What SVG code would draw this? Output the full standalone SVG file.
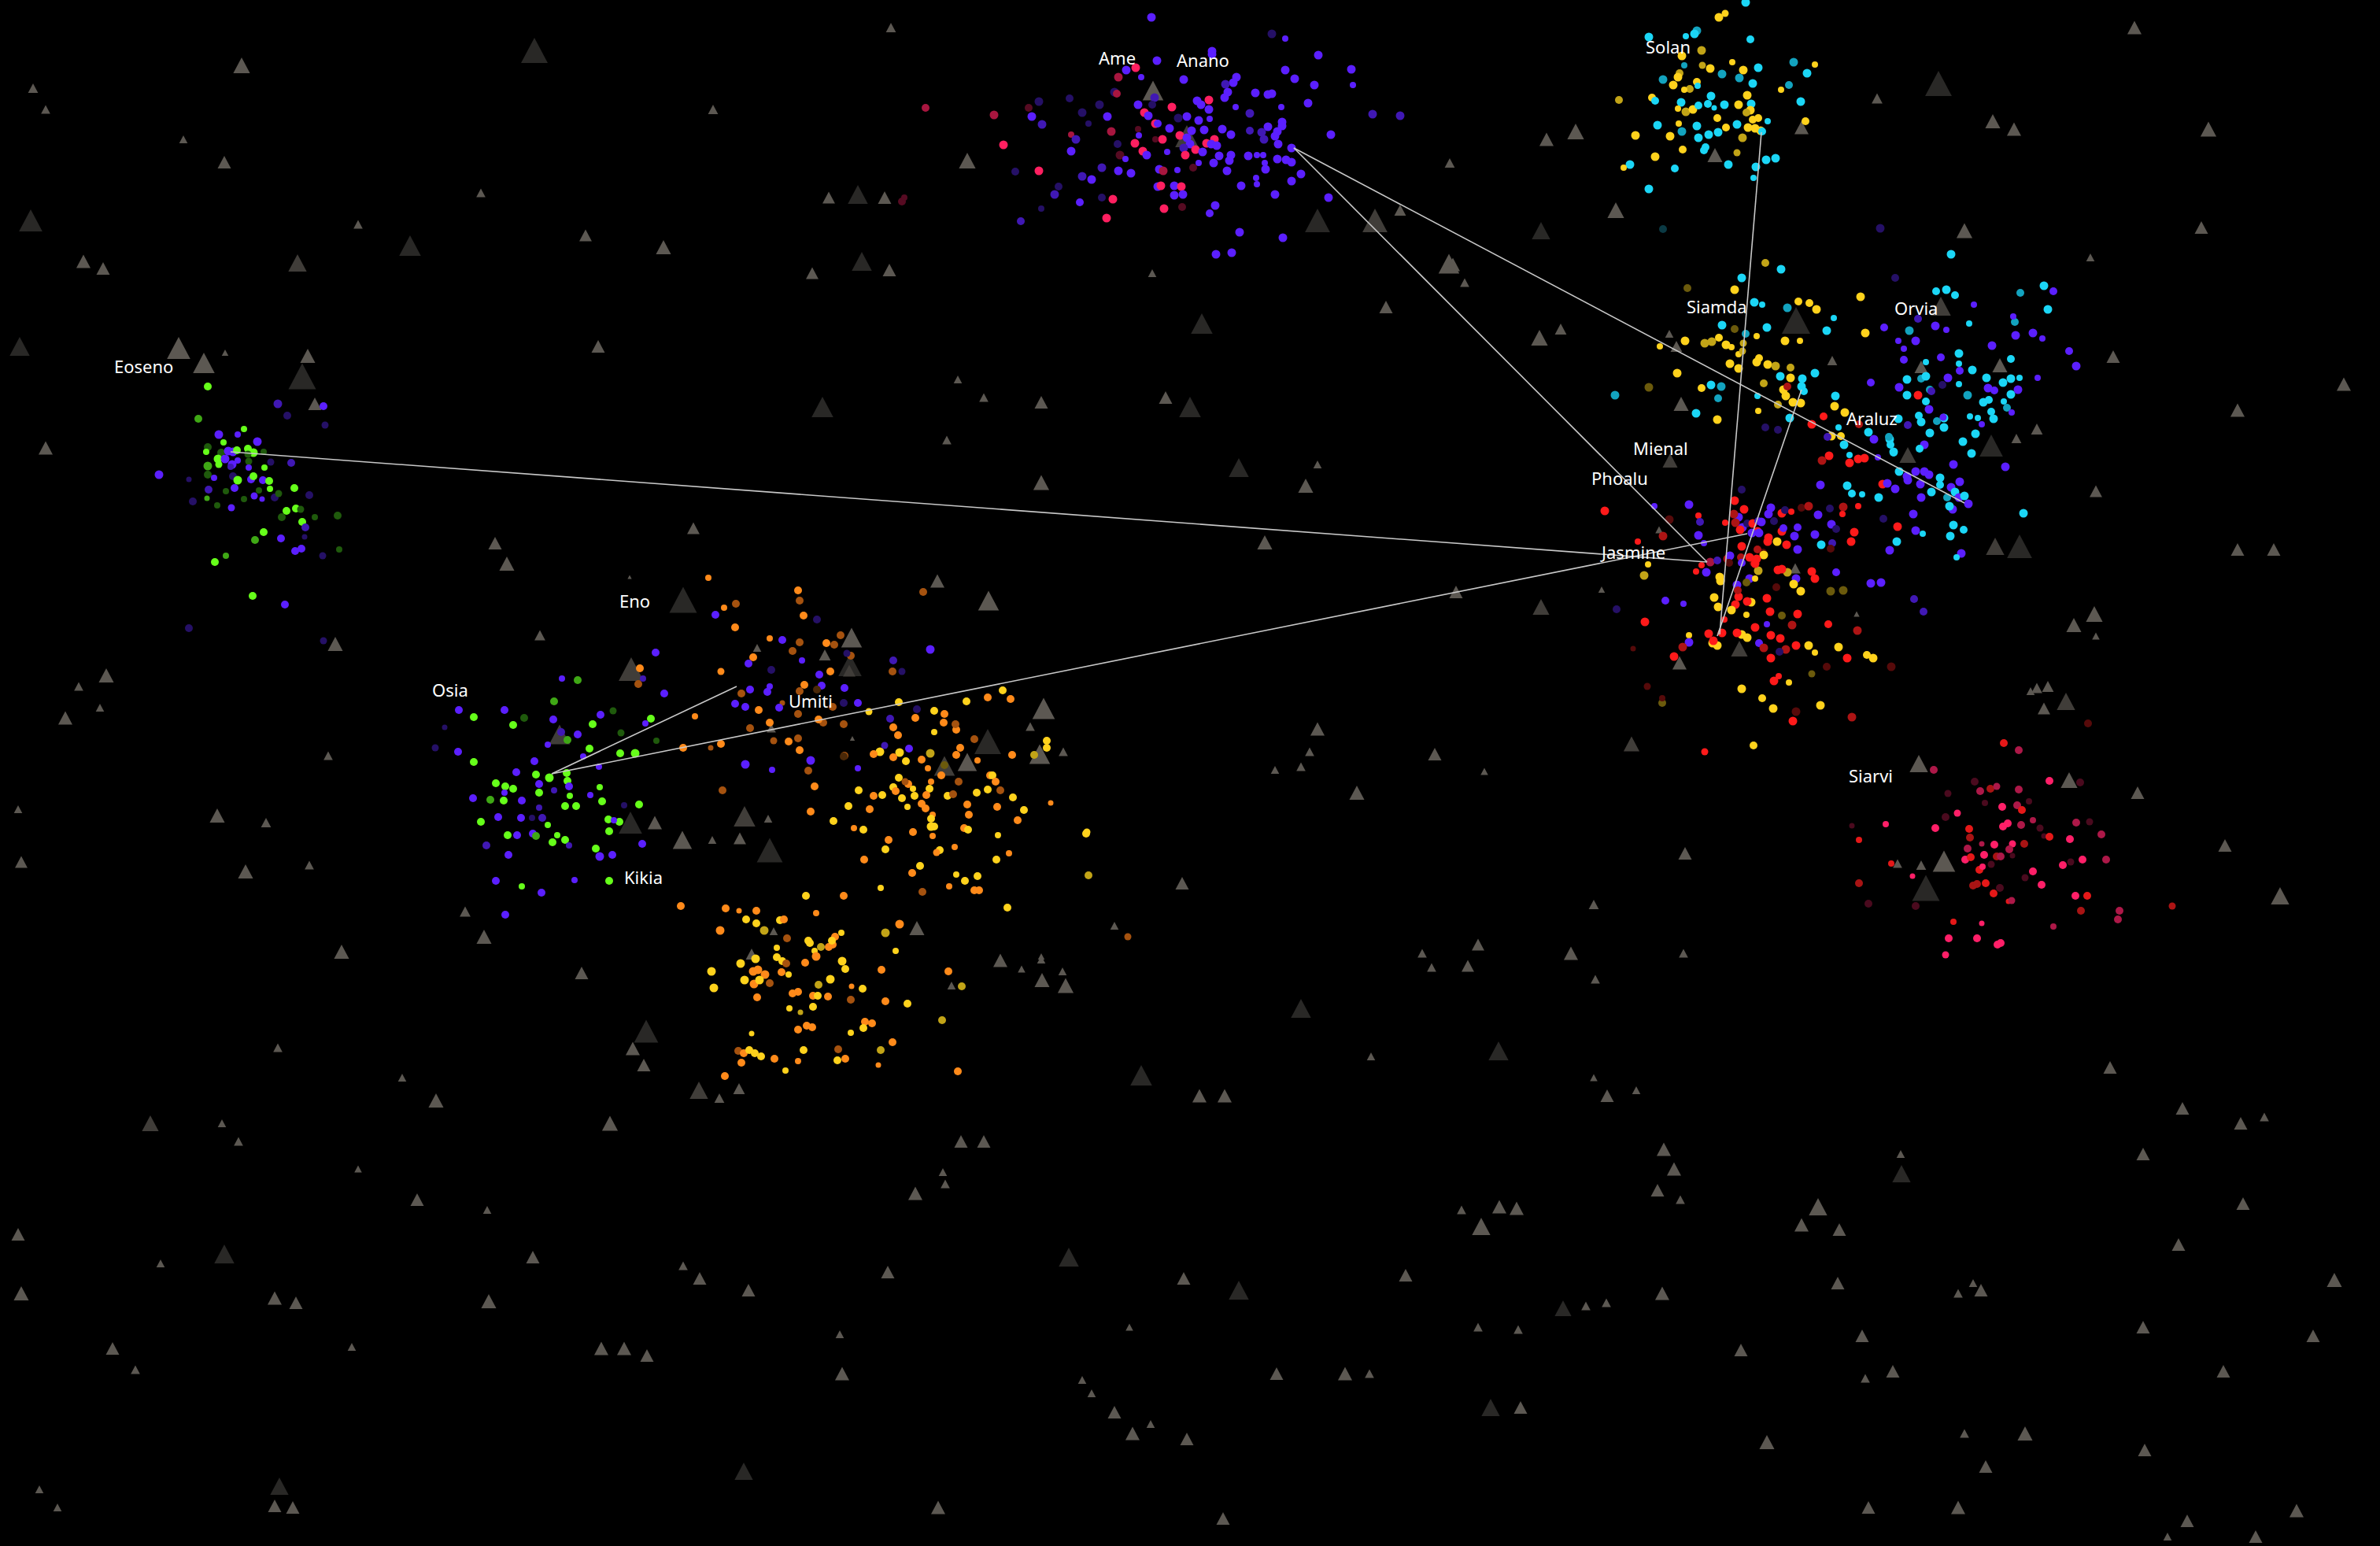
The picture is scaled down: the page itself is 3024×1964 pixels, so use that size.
<svg xmlns="http://www.w3.org/2000/svg" xmlns:xlink="http://www.w3.org/1999/xlink" width="3024" height="1964" viewBox="0 0 3024 1964">
<style>
.L{fill:#5c5852}.M{fill:#403d39}.D{fill:#292826}
.b{fill:#5b1fff}.bd{fill:#4018b4}.bk{fill:#251066}
.r{fill:#ff1f60}.rd{fill:#a8163f}.rk{fill:#560b22}
.c{fill:#1bd6f6}.cd{fill:#13a3bf}.ck{fill:#0b3a44}
.y{fill:#ffd21c}.yd{fill:#c2a417}.yk{fill:#6b5a0c}
.R{fill:#ff1a1a}.Rd{fill:#ad1414}.Rk{fill:#560a0a}
.g{fill:#66ff1a}.gd{fill:#3fa815}.gk{fill:#1f5a0c}
.o{fill:#ff8a1a}.od{fill:#a5520f}.ok{fill:#4a2808}
.s{fill:#ff1f68}.sd{fill:#ad1848}.sk{fill:#4a0a1e}.sR{fill:#e51818}.sRd{fill:#a81414}
.ln{stroke:#c8c8c8;stroke-width:1.6;fill:none}
.lb{font-family:"Noto Sans","Liberation Sans",sans-serif;font-size:22px;fill:#ffffff}
</style>
<defs><path id="T" d="M0,-0.5L0.53,0.5L-0.53,0.5Z"/></defs>
<rect width="3024" height="1964" fill="#000000"/>
<g id="terrain">
<use href="#T" transform="translate(1132 35) scale(12)" class="L"/><use href="#T" transform="translate(679 64) scale(32)" class="D"/><use href="#T" transform="translate(307 83) scale(20)" class="L"/><use href="#T" transform="translate(42 112) scale(12)" class="L"/><use href="#T" transform="translate(2712 35) scale(17)" class="L"/><use href="#T" transform="translate(2463 106) scale(32)" class="D"/><use href="#T" transform="translate(906 139) scale(12)" class="L"/><use href="#T" transform="translate(58 139) scale(11)" class="L"/><use href="#T" transform="translate(233 177) scale(10)" class="L"/><use href="#T" transform="translate(2806 164) scale(19)" class="L"/><use href="#T" transform="translate(2532 154) scale(18)" class="L"/><use href="#T" transform="translate(2559 164) scale(17)" class="L"/><use href="#T" transform="translate(1965 177) scale(17)" class="L"/><use href="#T" transform="translate(285 206) scale(16)" class="L"/><use href="#T" transform="translate(39 280) scale(28)" class="D"/><use href="#T" transform="translate(611 245) scale(11)" class="L"/><use href="#T" transform="translate(744 299) scale(15)" class="L"/><use href="#T" transform="translate(521 312) scale(26)" class="D"/><use href="#T" transform="translate(843 314) scale(18)" class="L"/><use href="#T" transform="translate(106 332) scale(17)" class="L"/><use href="#T" transform="translate(131 341) scale(16)" class="L"/><use href="#T" transform="translate(378 334) scale(22)" class="M"/><use href="#T" transform="translate(455 285) scale(11)" class="L"/><use href="#T" transform="translate(1053 251) scale(15)" class="L"/><use href="#T" transform="translate(1090 247) scale(24)" class="D"/><use href="#T" transform="translate(1124 251) scale(16)" class="L"/><use href="#T" transform="translate(1674 280) scale(30)" class="D"/><use href="#T" transform="translate(1747 280) scale(30)" class="M"/><use href="#T" transform="translate(1779 267) scale(14)" class="L"/><use href="#T" transform="translate(1842 207) scale(12)" class="L"/><use href="#T" transform="translate(1841 335) scale(25)" class="L"/><use href="#T" transform="translate(1464 347) scale(10)" class="L"/><use href="#T" transform="translate(1465 115) scale(25)" class="L"/><use href="#T" transform="translate(1508 173) scale(28)" class="M"/><use href="#T" transform="translate(1229 204) scale(20)" class="L"/><use href="#T" transform="translate(1958 293) scale(22)" class="D"/><use href="#T" transform="translate(2496 293) scale(19)" class="L"/><use href="#T" transform="translate(2797 289) scale(16)" class="L"/><use href="#T" transform="translate(1032 347) scale(15)" class="L"/><use href="#T" transform="translate(1095 332) scale(24)" class="D"/><use href="#T" transform="translate(1130 343) scale(16)" class="L"/><use href="#T" transform="translate(1846 336) scale(17)" class="L"/><use href="#T" transform="translate(1861 359) scale(11)" class="L"/><use href="#T" transform="translate(1761 390) scale(16)" class="L"/><use href="#T" transform="translate(1527 411) scale(26)" class="D"/><use href="#T" transform="translate(2385 125) scale(13)" class="L"/><use href="#T" transform="translate(2289 162) scale(17)" class="L"/><use href="#T" transform="translate(2179 197) scale(18)" class="L"/><use href="#T" transform="translate(2053 267) scale(20)" class="L"/><use href="#T" transform="translate(2002 167) scale(20)" class="L"/>
<use href="#T" transform="translate(227 442) scale(28)" class="L"/><use href="#T" transform="translate(259 461) scale(26)" class="L"/><use href="#T" transform="translate(286 448) scale(8)" class="L"/><use href="#T" transform="translate(391 452) scale(18)" class="L"/><use href="#T" transform="translate(384 478) scale(33)" class="D"/><use href="#T" transform="translate(400 513) scale(16)" class="L"/><use href="#T" transform="translate(25 440) scale(24)" class="D"/>
<use href="#T" transform="translate(760 440) scale(16)" class="L"/><use href="#T" transform="translate(58 569) scale(17)" class="L"/><use href="#T" transform="translate(1045 517) scale(26)" class="D"/><use href="#T" transform="translate(1323 511) scale(16)" class="L"/><use href="#T" transform="translate(1250 505) scale(11)" class="L"/><use href="#T" transform="translate(1217 482) scale(10)" class="L"/><use href="#T" transform="translate(1481 505) scale(16)" class="L"/><use href="#T" transform="translate(1512 517) scale(26)" class="D"/><use href="#T" transform="translate(2843 521) scale(17)" class="L"/><use href="#T" transform="translate(2978 488) scale(17)" class="L"/><use href="#T" transform="translate(2685 453) scale(16)" class="L"/><use href="#T" transform="translate(1203 559) scale(11)" class="L"/><use href="#T" transform="translate(1323 613) scale(19)" class="L"/><use href="#T" transform="translate(1574 594) scale(24)" class="D"/><use href="#T" transform="translate(1659 617) scale(18)" class="L"/><use href="#T" transform="translate(1674 590) scale(10)" class="L"/><use href="#T" transform="translate(629 690) scale(16)" class="L"/><use href="#T" transform="translate(644 716) scale(18)" class="L"/><use href="#T" transform="translate(881 671) scale(15)" class="L"/><use href="#T" transform="translate(1607 689) scale(18)" class="L"/><use href="#T" transform="translate(2843 698) scale(16)" class="L"/><use href="#T" transform="translate(2889 698) scale(16)" class="L"/><use href="#T" transform="translate(1958 771) scale(20)" class="M"/><use href="#T" transform="translate(1850 752) scale(16)" class="L"/><use href="#T" transform="translate(426 818) scale(18)" class="L"/><use href="#T" transform="translate(135 858) scale(18)" class="L"/><use href="#T" transform="translate(100 872) scale(11)" class="L"/><use href="#T" transform="translate(83 912) scale(17)" class="L"/><use href="#T" transform="translate(127 899) scale(10)" class="L"/><use href="#T" transform="translate(2073 945) scale(19)" class="M"/><use href="#T" transform="translate(1823 958) scale(16)" class="L"/><use href="#T" transform="translate(1674 926) scale(17)" class="L"/><use href="#T" transform="translate(1664 955) scale(11)" class="L"/><use href="#T" transform="translate(1653 974) scale(11)" class="L"/><use href="#T" transform="translate(1620 978) scale(10)" class="L"/><use href="#T" transform="translate(1724 1007) scale(18)" class="L"/><use href="#T" transform="translate(1886 980) scale(9)" class="L"/><use href="#T" transform="translate(2716 1007) scale(16)" class="L"/><use href="#T" transform="translate(276 1036) scale(18)" class="L"/><use href="#T" transform="translate(338 1045) scale(12)" class="L"/><use href="#T" transform="translate(417 960) scale(11)" class="L"/><use href="#T" transform="translate(23 1028) scale(10)" class="L"/><use href="#T" transform="translate(27 1095) scale(15)" class="L"/><use href="#T" transform="translate(312 1107) scale(18)" class="L"/><use href="#T" transform="translate(393 1099) scale(11)" class="L"/><use href="#T" transform="translate(2141 1084) scale(16)" class="L"/><use href="#T" transform="translate(2025 1149) scale(12)" class="L"/><use href="#T" transform="translate(2897 1138) scale(22)" class="L"/><use href="#T" transform="translate(2827 1074) scale(16)" class="L"/>
<use href="#T" transform="translate(2656 327) scale(10)" class="L"/><use href="#T" transform="translate(2282 407) scale(34)" class="D"/><use href="#T" transform="translate(2466 389) scale(24)" class="M"/><use href="#T" transform="translate(1983 418) scale(14)" class="L"/><use href="#T" transform="translate(1956 429) scale(20)" class="L"/><use href="#T" transform="translate(2121 424) scale(10)" class="L"/><use href="#T" transform="translate(2130 440) scale(14)" class="L"/><use href="#T" transform="translate(2136 513) scale(18)" class="L"/><use href="#T" transform="translate(2328 458) scale(12)" class="L"/><use href="#T" transform="translate(2441 466) scale(16)" class="L"/><use href="#T" transform="translate(2541 464) scale(18)" class="L"/><use href="#T" transform="translate(2588 545) scale(14)" class="L"/><use href="#T" transform="translate(2562 557) scale(12)" class="L"/><use href="#T" transform="translate(2530 566) scale(28)" class="D"/><use href="#T" transform="translate(2424 578) scale(20)" class="M"/><use href="#T" transform="translate(2663 624) scale(15)" class="L"/><use href="#T" transform="translate(2122 585) scale(18)" class="M"/><use href="#T" transform="translate(2108 673) scale(9)" class="L"/><use href="#T" transform="translate(2535 694) scale(22)" class="M"/><use href="#T" transform="translate(2566 694) scale(30)" class="D"/><use href="#T" transform="translate(2035 749) scale(8)" class="L"/><use href="#T" transform="translate(2281 722) scale(13)" class="L"/><use href="#T" transform="translate(2359 780) scale(7)" class="L"/><use href="#T" transform="translate(2661 780) scale(20)" class="L"/><use href="#T" transform="translate(2635 794) scale(18)" class="L"/><use href="#T" transform="translate(2663 808) scale(9)" class="L"/><use href="#T" transform="translate(2210 824) scale(20)" class="M"/><use href="#T" transform="translate(2134 842) scale(17)" class="L"/><use href="#T" transform="translate(2588 874) scale(13)" class="L"/><use href="#T" transform="translate(2602 872) scale(14)" class="L"/><use href="#T" transform="translate(2597 900) scale(15)" class="L"/><use href="#T" transform="translate(2625 891) scale(22)" class="M"/><use href="#T" transform="translate(2580 878) scale(10)" class="L"/>
<use href="#T" transform="translate(868 762) scale(33)" class="D"/><use href="#T" transform="translate(800 733) scale(5)" class="L"/><use href="#T" transform="translate(1191 738) scale(17)" class="L"/><use href="#T" transform="translate(1256 763) scale(25)" class="L"/><use href="#T" transform="translate(686 807) scale(13)" class="L"/><use href="#T" transform="translate(802 850) scale(30)" class="M"/><use href="#T" transform="translate(962 823) scale(10)" class="L"/><use href="#T" transform="translate(1082 810) scale(25)" class="L"/><use href="#T" transform="translate(1080 845) scale(28)" class="D"/><use href="#T" transform="translate(1048 832) scale(14)" class="L"/><use href="#T" transform="translate(1326 900) scale(27)" class="L"/><use href="#T" transform="translate(1309 923) scale(11)" class="L"/><use href="#T" transform="translate(1255 942) scale(32)" class="D"/><use href="#T" transform="translate(1229 968) scale(23)" class="L"/><use href="#T" transform="translate(1200 973) scale(25)" class="M"/><use href="#T" transform="translate(1321 958) scale(25)" class="L"/><use href="#T" transform="translate(1351 955) scale(11)" class="L"/><use href="#T" transform="translate(1083 938) scale(6)" class="L"/><use href="#T" transform="translate(980 925) scale(11)" class="L"/><use href="#T" transform="translate(711 933) scale(25)" class="M"/><use href="#T" transform="translate(801 1045) scale(28)" class="D"/><use href="#T" transform="translate(832 1045) scale(17)" class="L"/><use href="#T" transform="translate(946 1037) scale(26)" class="M"/><use href="#T" transform="translate(976 1040) scale(10)" class="L"/><use href="#T" transform="translate(867 1067) scale(23)" class="L"/><use href="#T" transform="translate(905 1067) scale(10)" class="L"/><use href="#T" transform="translate(940 1065) scale(15)" class="L"/><use href="#T" transform="translate(978 1080) scale(31)" class="D"/><use href="#T" transform="translate(591 1158) scale(13)" class="L"/><use href="#T" transform="translate(1079 852) scale(15)" class="M"/><use href="#T" transform="translate(1165 1179) scale(18)" class="L"/><use href="#T" transform="translate(983 1183) scale(10)" class="L"/><use href="#T" transform="translate(955 1212) scale(14)" class="L"/><use href="#T" transform="translate(1271 1220) scale(17)" class="L"/><use href="#T" transform="translate(1323 1215) scale(8)" class="L"/><use href="#T" transform="translate(1298 1231) scale(9)" class="L"/><use href="#T" transform="translate(1324 1245) scale(18)" class="L"/><use href="#T" transform="translate(1354 1252) scale(19)" class="L"/><use href="#T" transform="translate(821 1310) scale(29)" class="D"/><use href="#T" transform="translate(804 1332) scale(17)" class="L"/><use href="#T" transform="translate(818 1353) scale(16)" class="L"/><use href="#T" transform="translate(888 1385) scale(22)" class="M"/><use href="#T" transform="translate(939 1383) scale(14)" class="L"/><use href="#T" transform="translate(914 1395) scale(12)" class="L"/>
<use href="#T" transform="translate(2438 970) scale(22)" class="L"/><use href="#T" transform="translate(2629 991) scale(20)" class="L"/><use href="#T" transform="translate(2470 1094) scale(27)" class="L"/><use href="#T" transform="translate(2411 1097) scale(11)" class="L"/><use href="#T" transform="translate(2441 1099) scale(12)" class="L"/><use href="#T" transform="translate(2447 1128) scale(33)" class="D"/>
<use href="#T" transform="translate(1502 1122) scale(16)" class="L"/><use href="#T" transform="translate(1416 1176) scale(10)" class="L"/><use href="#T" transform="translate(615 1190) scale(18)" class="L"/><use href="#T" transform="translate(434 1209) scale(18)" class="L"/><use href="#T" transform="translate(739 1236) scale(16)" class="L"/><use href="#T" transform="translate(1996 1211) scale(17)" class="L"/><use href="#T" transform="translate(1807 1211) scale(11)" class="L"/><use href="#T" transform="translate(1819 1229) scale(11)" class="L"/><use href="#T" transform="translate(1865 1227) scale(15)" class="L"/><use href="#T" transform="translate(1878 1200) scale(15)" class="L"/><use href="#T" transform="translate(2139 1211) scale(11)" class="L"/><use href="#T" transform="translate(2027 1244) scale(11)" class="L"/><use href="#T" transform="translate(1653 1281) scale(24)" class="D"/><use href="#T" transform="translate(1323 1219) scale(10)" class="L"/><use href="#T" transform="translate(1350 1234) scale(10)" class="L"/><use href="#T" transform="translate(1209 1252) scale(10)" class="L"/><use href="#T" transform="translate(353 1331) scale(11)" class="L"/><use href="#T" transform="translate(1904 1335) scale(24)" class="D"/><use href="#T" transform="translate(1742 1342) scale(10)" class="L"/><use href="#T" transform="translate(2681 1356) scale(16)" class="L"/><use href="#T" transform="translate(1450 1366) scale(26)" class="D"/><use href="#T" transform="translate(511 1369) scale(10)" class="L"/><use href="#T" transform="translate(554 1398) scale(18)" class="L"/><use href="#T" transform="translate(191 1427) scale(20)" class="M"/><use href="#T" transform="translate(282 1427) scale(10)" class="L"/><use href="#T" transform="translate(303 1450) scale(11)" class="L"/><use href="#T" transform="translate(775 1427) scale(19)" class="L"/><use href="#T" transform="translate(1524 1392) scale(17)" class="L"/><use href="#T" transform="translate(1556 1392) scale(17)" class="L"/><use href="#T" transform="translate(2025 1369) scale(9)" class="L"/><use href="#T" transform="translate(2042 1392) scale(16)" class="L"/><use href="#T" transform="translate(2079 1385) scale(10)" class="L"/><use href="#T" transform="translate(2773 1408) scale(16)" class="L"/><use href="#T" transform="translate(2847 1427) scale(16)" class="L"/><use href="#T" transform="translate(2877 1419) scale(11)" class="L"/><use href="#T" transform="translate(2723 1466) scale(16)" class="L"/><use href="#T" transform="translate(2114 1460) scale(17)" class="L"/><use href="#T" transform="translate(2127 1485) scale(17)" class="L"/><use href="#T" transform="translate(2106 1512) scale(16)" class="L"/><use href="#T" transform="translate(2135 1524) scale(11)" class="L"/><use href="#T" transform="translate(2416 1491) scale(22)" class="D"/><use href="#T" transform="translate(2415 1466) scale(10)" class="L"/><use href="#T" transform="translate(455 1485) scale(9)" class="L"/><use href="#T" transform="translate(530 1524) scale(16)" class="L"/><use href="#T" transform="translate(1163 1516) scale(17)" class="L"/><use href="#T" transform="translate(1201 1504) scale(11)" class="L"/><use href="#T" transform="translate(1198 1489) scale(10)" class="L"/><use href="#T" transform="translate(1221 1450) scale(16)" class="L"/><use href="#T" transform="translate(1250 1450) scale(16)" class="L"/><use href="#T" transform="translate(619 1537) scale(10)" class="L"/><use href="#T" transform="translate(23 1568) scale(16)" class="L"/><use href="#T" transform="translate(285 1593) scale(24)" class="D"/><use href="#T" transform="translate(204 1605) scale(10)" class="L"/><use href="#T" transform="translate(677 1597) scale(16)" class="L"/><use href="#T" transform="translate(1358 1597) scale(24)" class="D"/><use href="#T" transform="translate(1504 1624) scale(16)" class="L"/><use href="#T" transform="translate(1574 1639) scale(24)" class="D"/><use href="#T" transform="translate(1786 1620) scale(16)" class="L"/><use href="#T" transform="translate(1882 1558) scale(22)" class="L"/><use href="#T" transform="translate(1905 1533) scale(17)" class="L"/><use href="#T" transform="translate(1927 1535) scale(17)" class="L"/><use href="#T" transform="translate(1857 1537) scale(11)" class="L"/><use href="#T" transform="translate(2310 1533) scale(22)" class="L"/><use href="#T" transform="translate(2289 1556) scale(17)" class="L"/><use href="#T" transform="translate(2337 1562) scale(16)" class="L"/><use href="#T" transform="translate(2517 1639) scale(16)" class="L"/><use href="#T" transform="translate(2488 1643) scale(11)" class="L"/><use href="#T" transform="translate(2768 1581) scale(16)" class="L"/><use href="#T" transform="translate(2850 1529) scale(16)" class="L"/><use href="#T" transform="translate(2966 1626) scale(18)" class="L"/><use href="#T" transform="translate(27 1643) scale(18)" class="L"/><use href="#T" transform="translate(349 1649) scale(17)" class="L"/><use href="#T" transform="translate(376 1655) scale(16)" class="L"/><use href="#T" transform="translate(621 1653) scale(18)" class="L"/><use href="#T" transform="translate(868 1608) scale(11)" class="L"/><use href="#T" transform="translate(889 1624) scale(16)" class="L"/><use href="#T" transform="translate(951 1639) scale(16)" class="L"/><use href="#T" transform="translate(1128 1616) scale(16)" class="L"/><use href="#T" transform="translate(1986 1662) scale(20)" class="D"/><use href="#T" transform="translate(2015 1659) scale(11)" class="L"/><use href="#T" transform="translate(2041 1655) scale(11)" class="L"/><use href="#T" transform="translate(2112 1643) scale(17)" class="L"/><use href="#T" transform="translate(2335 1630) scale(16)" class="L"/><use href="#T" transform="translate(2507 1630) scale(10)" class="L"/><use href="#T" transform="translate(2723 1686) scale(16)" class="L"/><use href="#T" transform="translate(2939 1697) scale(16)" class="L"/><use href="#T" transform="translate(143 1713) scale(16)" class="L"/><use href="#T" transform="translate(172 1740) scale(11)" class="L"/><use href="#T" transform="translate(447 1711) scale(10)" class="L"/><use href="#T" transform="translate(764 1713) scale(17)" class="L"/><use href="#T" transform="translate(793 1713) scale(17)" class="L"/><use href="#T" transform="translate(822 1722) scale(16)" class="L"/><use href="#T" transform="translate(1067 1695) scale(10)" class="L"/><use href="#T" transform="translate(1435 1686) scale(9)" class="L"/><use href="#T" transform="translate(1878 1686) scale(11)" class="L"/><use href="#T" transform="translate(1929 1689) scale(11)" class="L"/><use href="#T" transform="translate(2212 1715) scale(16)" class="L"/><use href="#T" transform="translate(2366 1697) scale(16)" class="L"/><use href="#T" transform="translate(1070 1745) scale(17)" class="L"/><use href="#T" transform="translate(1375 1753) scale(10)" class="L"/><use href="#T" transform="translate(1387 1770) scale(10)" class="L"/><use href="#T" transform="translate(1622 1745) scale(16)" class="L"/><use href="#T" transform="translate(1709 1745) scale(17)" class="L"/><use href="#T" transform="translate(1740 1745) scale(11)" class="L"/><use href="#T" transform="translate(1894 1788) scale(22)" class="D"/><use href="#T" transform="translate(1932 1788) scale(16)" class="L"/><use href="#T" transform="translate(2370 1751) scale(11)" class="L"/><use href="#T" transform="translate(2405 1742) scale(16)" class="L"/><use href="#T" transform="translate(2825 1742) scale(16)" class="L"/><use href="#T" transform="translate(1416 1794) scale(16)" class="L"/><use href="#T" transform="translate(1439 1821) scale(17)" class="L"/><use href="#T" transform="translate(1462 1809) scale(10)" class="L"/><use href="#T" transform="translate(1508 1828) scale(16)" class="L"/><use href="#T" transform="translate(2245 1832) scale(18)" class="L"/><use href="#T" transform="translate(2496 1821) scale(11)" class="L"/><use href="#T" transform="translate(2573 1821) scale(18)" class="L"/><use href="#T" transform="translate(2725 1842) scale(16)" class="L"/><use href="#T" transform="translate(2523 1863) scale(16)" class="L"/><use href="#T" transform="translate(945 1869) scale(22)" class="D"/><use href="#T" transform="translate(355 1888) scale(22)" class="D"/><use href="#T" transform="translate(349 1913) scale(16)" class="L"/><use href="#T" transform="translate(372 1915) scale(16)" class="L"/><use href="#T" transform="translate(73 1915) scale(10)" class="L"/><use href="#T" transform="translate(50 1892) scale(10)" class="L"/><use href="#T" transform="translate(1192 1915) scale(17)" class="L"/><use href="#T" transform="translate(1554 1929) scale(16)" class="L"/><use href="#T" transform="translate(2374 1915) scale(16)" class="L"/><use href="#T" transform="translate(2488 1915) scale(17)" class="L"/><use href="#T" transform="translate(2779 1932) scale(16)" class="L"/><use href="#T" transform="translate(2918 1919) scale(17)" class="L"/><use href="#T" transform="translate(2866 1952) scale(16)" class="L"/><use href="#T" transform="translate(2754 1952) scale(10)" class="L"/>
</g>
<g id="cluster-anano">
<circle cx="1463" cy="22" r="5.5" class="b"/><circle cx="1616" cy="43" r="5.5" class="bk"/><circle cx="1633" cy="49" r="4" class="b"/><circle cx="1540" cy="65" r="5.5" class="b"/><circle cx="1540" cy="69" r="5.5" class="b"/><circle cx="1470" cy="77" r="5.5" class="b"/><circle cx="1675" cy="70" r="5.5" class="b"/><circle cx="1443" cy="86" r="5.5" class="r"/><circle cx="1431" cy="89" r="5.5" class="b"/><circle cx="1421" cy="98" r="5.5" class="rd"/><circle cx="1450" cy="98" r="4" class="b"/><circle cx="1504" cy="101" r="5.5" class="b"/><circle cx="1717" cy="88" r="5.5" class="b"/><circle cx="1633" cy="89" r="5.5" class="b"/><circle cx="1645" cy="100" r="5.5" class="b"/><circle cx="1670" cy="108" r="5.5" class="b"/><circle cx="1719" cy="108" r="4" class="b"/><circle cx="1571" cy="98" r="5.5" class="b"/><circle cx="1567" cy="105" r="5.5" class="b"/><circle cx="1557" cy="107" r="5.5" class="bd"/><circle cx="1416" cy="117" r="5.5" class="bk"/><circle cx="1419" cy="119" r="5" class="rd"/><circle cx="1467" cy="124" r="5.5" class="bd"/><circle cx="1560" cy="117" r="5.5" class="b"/><circle cx="1556" cy="124" r="5.5" class="b"/><circle cx="1595" cy="118" r="5.5" class="b"/><circle cx="1611" cy="120" r="5.5" class="b"/><circle cx="1616" cy="119" r="5.5" class="b"/><circle cx="1536" cy="127" r="5.5" class="r"/><circle cx="1521" cy="128" r="5.5" class="b"/><circle cx="1526" cy="133" r="5.5" class="b"/><circle cx="1263" cy="146" r="5.5" class="rd"/><circle cx="1311" cy="148" r="5.5" class="b"/><circle cx="1307" cy="137" r="5" class="rk"/><circle cx="1320" cy="129" r="5.5" class="bk"/><circle cx="1359" cy="125" r="5" class="bk"/><circle cx="1324" cy="158" r="5.5" class="bd"/><circle cx="1397" cy="133" r="5.5" class="bk"/><circle cx="1375" cy="143" r="5.5" class="bk"/><circle cx="1407" cy="148" r="5.5" class="b"/><circle cx="1383" cy="157" r="4" class="bk"/><circle cx="1446" cy="133" r="5.5" class="b"/><circle cx="1464" cy="133" r="5" class="bk"/><circle cx="1489" cy="136" r="5.5" class="r"/><circle cx="1454" cy="143" r="5.5" class="r"/><circle cx="1459" cy="147" r="5.5" class="b"/><circle cx="1536" cy="139" r="5.5" class="b"/><circle cx="1570" cy="136" r="4" class="b"/><circle cx="1588" cy="144" r="5.5" class="bd"/><circle cx="1628" cy="136" r="4" class="b"/><circle cx="1662" cy="131" r="5.5" class="b"/><circle cx="1744" cy="145" r="5.5" class="bd"/><circle cx="1779" cy="147" r="5.5" class="bd"/><circle cx="1508" cy="148" r="5.5" class="b"/><circle cx="1497" cy="150" r="5.5" class="bk"/><circle cx="1523" cy="153" r="5.5" class="b"/><circle cx="1537" cy="151" r="4" class="b"/><circle cx="1468" cy="157" r="5.5" class="r"/><circle cx="1471" cy="157" r="5" class="b"/><circle cx="1486" cy="163" r="5.5" class="b"/><circle cx="1514" cy="166" r="5.5" class="b"/><circle cx="1530" cy="165" r="5.5" class="b"/><circle cx="1553" cy="164" r="5.5" class="b"/><circle cx="1629" cy="155" r="5.5" class="b"/><circle cx="1629" cy="160" r="5.5" class="b"/><circle cx="1611" cy="161" r="5.5" class="b"/><circle cx="1603" cy="168" r="5.5" class="bd"/><circle cx="1588" cy="166" r="5" class="bd"/><circle cx="1623" cy="167" r="5.5" class="b"/><circle cx="1691" cy="171" r="5.5" class="b"/><circle cx="1412" cy="167" r="5.5" class="rd"/><circle cx="1446" cy="164" r="4" class="rk"/><circle cx="1361" cy="171" r="4" class="rd"/><circle cx="1367" cy="177" r="5.5" class="bd"/><circle cx="1447" cy="172" r="4" class="b"/><circle cx="1477" cy="177" r="5.5" class="r"/><circle cx="1468" cy="177" r="4" class="rk"/><circle cx="1499" cy="172" r="5.5" class="r"/><circle cx="1508" cy="175" r="5.5" class="b"/><circle cx="1543" cy="177" r="5.5" class="r"/><circle cx="1533" cy="182" r="5.5" class="r"/><circle cx="1564" cy="171" r="5.5" class="b"/><circle cx="1606" cy="177" r="5.5" class="bd"/><circle cx="1620" cy="173" r="5.5" class="b"/><circle cx="1624" cy="183" r="5.5" class="b"/><circle cx="1641" cy="188" r="5.5" class="b"/><circle cx="1275" cy="184" r="5.5" class="r"/><circle cx="1361" cy="192" r="5.5" class="b"/><circle cx="1442" cy="182" r="5.5" class="r"/><circle cx="1420" cy="183" r="5" class="bk"/><circle cx="1512" cy="183" r="5.5" class="b"/><circle cx="1539" cy="183" r="5.5" class="b"/><circle cx="1546" cy="185" r="5.5" class="b"/><circle cx="1519" cy="190" r="5.5" class="r"/><circle cx="1504" cy="188" r="5.5" class="bd"/><circle cx="1452" cy="192" r="5.5" class="r"/><circle cx="1423" cy="197" r="5.5" class="rk"/><circle cx="1457" cy="197" r="5.5" class="b"/><circle cx="1483" cy="193" r="4" class="b"/><circle cx="1506" cy="197" r="5.5" class="r"/><circle cx="1528" cy="193" r="5.5" class="b"/><circle cx="1549" cy="198" r="5.5" class="b"/><circle cx="1564" cy="197" r="5.5" class="b"/><circle cx="1586" cy="198" r="5.5" class="b"/><circle cx="1597" cy="197" r="4" class="b"/><circle cx="1605" cy="197" r="4" class="b"/><circle cx="1430" cy="202" r="4" class="b"/><circle cx="1562" cy="204" r="5.5" class="b"/><circle cx="1623" cy="202" r="5.5" class="b"/><circle cx="1634" cy="203" r="5.5" class="b"/><circle cx="1641" cy="206" r="5.5" class="b"/><circle cx="1290" cy="218" r="5" class="bk"/><circle cx="1320" cy="217" r="5.5" class="r"/><circle cx="1375" cy="224" r="5.5" class="bd"/><circle cx="1387" cy="228" r="5.5" class="b"/><circle cx="1400" cy="213" r="5.5" class="bd"/><circle cx="1421" cy="217" r="5.5" class="b"/><circle cx="1437" cy="220" r="5.5" class="b"/><circle cx="1473" cy="215" r="5.5" class="b"/><circle cx="1478" cy="217" r="5.5" class="rd"/><circle cx="1496" cy="216" r="4" class="b"/><circle cx="1516" cy="213" r="5" class="rk"/><circle cx="1523" cy="207" r="4" class="b"/><circle cx="1542" cy="207" r="5.5" class="b"/><circle cx="1559" cy="217" r="5.5" class="b"/><circle cx="1607" cy="207" r="4" class="b"/><circle cx="1608" cy="215" r="5.5" class="b"/><circle cx="1596" cy="226" r="4" class="b"/><circle cx="1597" cy="234" r="4" class="b"/><circle cx="1641" cy="230" r="5.5" class="b"/><circle cx="1653" cy="221" r="5.5" class="b"/><circle cx="1345" cy="237" r="5" class="bk"/><circle cx="1340" cy="247" r="5.5" class="bd"/><circle cx="1372" cy="257" r="5" class="b"/><circle cx="1414" cy="253" r="5.5" class="r"/><circle cx="1400" cy="251" r="5" class="bk"/><circle cx="1471" cy="237" r="5.5" class="b"/><circle cx="1475" cy="236" r="5.5" class="r"/><circle cx="1492" cy="236" r="5.5" class="b"/><circle cx="1501" cy="237" r="5.5" class="r"/><circle cx="1492" cy="248" r="5.5" class="b"/><circle cx="1503" cy="247" r="5.5" class="b"/><circle cx="1577" cy="236" r="5.5" class="b"/><circle cx="1620" cy="247" r="5.5" class="b"/><circle cx="1688" cy="251" r="5.5" class="b"/><circle cx="1297" cy="281" r="5" class="bd"/><circle cx="1406" cy="277" r="5.5" class="r"/><circle cx="1479" cy="265" r="5.5" class="r"/><circle cx="1502" cy="263" r="5" class="rk"/><circle cx="1544" cy="261" r="5.5" class="b"/><circle cx="1537" cy="271" r="5" class="b"/><circle cx="1575" cy="295" r="5.5" class="b"/><circle cx="1630" cy="302" r="5.5" class="b"/><circle cx="1545" cy="323" r="5.5" class="b"/><circle cx="1565" cy="321" r="5.5" class="b"/><circle cx="1323" cy="265" r="4" class="bk"/><circle cx="1176" cy="137" r="5" class="rd"/><circle cx="1146" cy="256" r="5" class="rk"/><circle cx="1149" cy="251" r="4" class="rk"/>
</g>
<g id="cluster-solan">
<circle cx="2218" cy="3" r="5.5" class="c"/><circle cx="2184" cy="22" r="5.5" class="y"/><circle cx="2192" cy="17" r="4.5" class="y"/><circle cx="2156" cy="39" r="5.5" class="cd"/><circle cx="2153" cy="43" r="5.5" class="c"/><circle cx="2142" cy="46" r="4" class="c"/><circle cx="2095" cy="47" r="5.5" class="c"/><circle cx="2224" cy="50" r="5" class="c"/><circle cx="2162" cy="64" r="5.5" class="yd"/><circle cx="2137" cy="71" r="5.5" class="y"/><circle cx="2140" cy="83" r="4" class="cd"/><circle cx="2163" cy="83" r="4.5" class="yd"/><circle cx="2173" cy="87" r="5.5" class="y"/><circle cx="2201" cy="79" r="4" class="y"/><circle cx="2215" cy="89" r="5.5" class="y"/><circle cx="2234" cy="86" r="5.5" class="c"/><circle cx="2279" cy="79" r="5.5" class="cd"/><circle cx="2306" cy="82" r="4" class="y"/><circle cx="2296" cy="93" r="5.5" class="c"/><circle cx="2273" cy="108" r="5" class="cd"/><circle cx="2263" cy="114" r="4" class="y"/><circle cx="2288" cy="129" r="5.5" class="c"/><circle cx="2294" cy="154" r="5" class="y"/><circle cx="2188" cy="94" r="5.5" class="cd"/><circle cx="2210" cy="99" r="5.5" class="cd"/><circle cx="2227" cy="106" r="5.5" class="c"/><circle cx="2134" cy="93" r="5" class="yd"/><circle cx="2132" cy="98" r="5.5" class="y"/><circle cx="2113" cy="101" r="5.5" class="cd"/><circle cx="2126" cy="108" r="5.5" class="y"/><circle cx="2156" cy="104" r="5" class="y"/><circle cx="2157" cy="109" r="4" class="c"/><circle cx="2147" cy="113" r="5" class="yd"/><circle cx="2140" cy="114" r="4" class="y"/><circle cx="2057" cy="127" r="5" class="yd"/><circle cx="2099" cy="124" r="5" class="y"/><circle cx="2103" cy="128" r="5" class="c"/><circle cx="2174" cy="122" r="5.5" class="c"/><circle cx="2220" cy="121" r="5.5" class="y"/><circle cx="2136" cy="130" r="5.5" class="c"/><circle cx="2132" cy="138" r="4" class="y"/><circle cx="2142" cy="142" r="5.5" class="yd"/><circle cx="2151" cy="139" r="5.5" class="y"/><circle cx="2158" cy="134" r="5" class="c"/><circle cx="2170" cy="132" r="5" class="c"/><circle cx="2178" cy="137" r="3.5" class="c"/><circle cx="2191" cy="133" r="5.5" class="c"/><circle cx="2209" cy="133" r="5.5" class="y"/><circle cx="2225" cy="132" r="5.5" class="c"/><circle cx="2224" cy="140" r="5.5" class="y"/><circle cx="2219" cy="143" r="5" class="yd"/><circle cx="2182" cy="150" r="5" class="y"/><circle cx="2234" cy="150" r="5" class="y"/><circle cx="2227" cy="152" r="5" class="y"/><circle cx="2246" cy="154" r="4" class="c"/><circle cx="2106" cy="159" r="5.5" class="c"/><circle cx="2133" cy="157" r="4" class="y"/><circle cx="2156" cy="160" r="5.5" class="c"/><circle cx="2193" cy="162" r="5" class="y"/><circle cx="2207" cy="158" r="5.5" class="c"/><circle cx="2221" cy="162" r="5.5" class="y"/><circle cx="2230" cy="163" r="5.5" class="y"/><circle cx="2237" cy="166" r="5.5" class="y"/><circle cx="2239" cy="167" r="5" class="c"/><circle cx="2137" cy="167" r="5.5" class="cd"/><circle cx="2171" cy="171" r="5.5" class="c"/><circle cx="2183" cy="168" r="5.5" class="c"/><circle cx="2214" cy="175" r="5.5" class="yd"/><circle cx="2078" cy="172" r="5.5" class="y"/><circle cx="2122" cy="173" r="5.5" class="y"/><circle cx="2158" cy="175" r="5.5" class="c"/><circle cx="2167" cy="187" r="5" class="c"/><circle cx="2165" cy="191" r="5" class="c"/><circle cx="2138" cy="190" r="5" class="y"/><circle cx="2207" cy="194" r="4.5" class="yd"/><circle cx="2103" cy="199" r="5.5" class="y"/><circle cx="2196" cy="209" r="5.5" class="c"/><circle cx="2231" cy="212" r="5.5" class="c"/><circle cx="2244" cy="203" r="5.5" class="c"/><circle cx="2256" cy="201" r="5.5" class="c"/><circle cx="2071" cy="209" r="5.5" class="c"/><circle cx="2063" cy="213" r="4" class="y"/><circle cx="2128" cy="214" r="5" class="c"/><circle cx="2228" cy="226" r="4" class="c"/><circle cx="2095" cy="240" r="5.5" class="c"/><circle cx="2113" cy="291" r="5" class="ck"/><circle cx="2389" cy="290" r="5.5" class="bk"/>
</g>
<g id="cluster-siamda-orvia">
<circle cx="2243" cy="334" r="5" class="yd"/><circle cx="2263" cy="342" r="5.5" class="c"/><circle cx="2213" cy="353" r="5.5" class="c"/><circle cx="2204" cy="368" r="5.5" class="y"/><circle cx="2144" cy="366" r="5" class="yk"/><circle cx="2229" cy="384" r="5.5" class="c"/><circle cx="2239" cy="387" r="4" class="c"/><circle cx="2285" cy="383" r="5" class="y"/><circle cx="2299" cy="385" r="5" class="y"/><circle cx="2308" cy="393" r="5.5" class="y"/><circle cx="2271" cy="391" r="5.5" class="cd"/><circle cx="2364" cy="377" r="5.5" class="y"/><circle cx="2330" cy="404" r="4" class="c"/><circle cx="2479" cy="323" r="5.5" class="c"/><circle cx="2408" cy="353" r="5" class="bk"/><circle cx="2460" cy="370" r="5" class="c"/><circle cx="2473" cy="368" r="5.5" class="c"/><circle cx="2484" cy="375" r="5" class="c"/><circle cx="2508" cy="387" r="4" class="b"/><circle cx="2597" cy="363" r="5.5" class="c"/><circle cx="2609" cy="370" r="5" class="b"/><circle cx="2567" cy="372" r="5" class="cd"/><circle cx="2602" cy="393" r="5.5" class="c"/><circle cx="2188" cy="413" r="5.5" class="c"/><circle cx="2204" cy="418" r="5" class="yk"/><circle cx="2218" cy="424" r="5" class="cd"/><circle cx="2245" cy="416" r="5.5" class="c"/><circle cx="2232" cy="427" r="4" class="y"/><circle cx="2141" cy="433" r="5.5" class="y"/><circle cx="2166" cy="436" r="5.5" class="yd"/><circle cx="2175" cy="434" r="5.5" class="yd"/><circle cx="2184" cy="429" r="5" class="y"/><circle cx="2193" cy="438" r="5.5" class="y"/><circle cx="2200" cy="441" r="4" class="y"/><circle cx="2109" cy="440" r="4" class="y"/><circle cx="2215" cy="436" r="4.5" class="yd"/><circle cx="2268" cy="433" r="5.5" class="y"/><circle cx="2287" cy="433" r="4" class="y"/><circle cx="2321" cy="420" r="5.5" class="c"/><circle cx="2370" cy="423" r="5.5" class="y"/><circle cx="2394" cy="416" r="5" class="b"/><circle cx="2426" cy="420" r="5.5" class="cd"/><circle cx="2459" cy="414" r="5.5" class="b"/><circle cx="2473" cy="419" r="4" class="b"/><circle cx="2437" cy="405" r="5" class="bd"/><circle cx="2412" cy="433" r="4" class="b"/><circle cx="2434" cy="433" r="5.5" class="b"/><circle cx="2419" cy="443" r="4" class="b"/><circle cx="2502" cy="411" r="4" class="c"/><circle cx="2560" cy="409" r="5" class="cd"/><circle cx="2558" cy="402" r="4" class="b"/><circle cx="2561" cy="426" r="5.5" class="b"/><circle cx="2583" cy="423" r="5.5" class="b"/><circle cx="2595" cy="430" r="4" class="b"/><circle cx="2531" cy="439" r="5.5" class="b"/><circle cx="2629" cy="446" r="5" class="b"/><circle cx="2638" cy="465" r="5.5" class="b"/><circle cx="2555" cy="456" r="5" class="c"/><circle cx="2489" cy="449" r="5.5" class="c"/><circle cx="2489" cy="462" r="4" class="c"/><circle cx="2466" cy="454" r="5" class="b"/><circle cx="2419" cy="457" r="5" class="b"/><circle cx="2447" cy="460" r="4" class="c"/><circle cx="2209" cy="450" r="4" class="y"/><circle cx="2214" cy="446" r="4.5" class="yd"/><circle cx="2232" cy="460" r="5.5" class="y"/><circle cx="2235" cy="455" r="5" class="y"/><circle cx="2198" cy="462" r="5.5" class="y"/><circle cx="2209" cy="468" r="5.5" class="y"/><circle cx="2246" cy="463" r="5.5" class="y"/><circle cx="2256" cy="465" r="5.5" class="yd"/><circle cx="2275" cy="467" r="5" class="yd"/><circle cx="2306" cy="474" r="5.5" class="c"/><circle cx="2290" cy="481" r="5.5" class="c"/><circle cx="2262" cy="478" r="5.5" class="c"/><circle cx="2275" cy="480" r="5.5" class="y"/><circle cx="2131" cy="474" r="5.5" class="y"/><circle cx="2174" cy="489" r="5.5" class="c"/><circle cx="2187" cy="491" r="5.5" class="cd"/><circle cx="2162" cy="493" r="5" class="y"/><circle cx="2095" cy="492" r="5.5" class="yk"/><circle cx="2052" cy="502" r="5.5" class="cd"/><circle cx="2233" cy="503" r="4" class="c"/><circle cx="2241" cy="487" r="5" class="yd"/><circle cx="2266" cy="495" r="5.5" class="y"/><circle cx="2269" cy="503" r="5.5" class="y"/><circle cx="2271" cy="491" r="5" class="Rd"/><circle cx="2289" cy="491" r="5.5" class="c"/><circle cx="2292" cy="497" r="5" class="c"/><circle cx="2278" cy="511" r="5.5" class="y"/><circle cx="2288" cy="512" r="5.5" class="y"/><circle cx="2259" cy="514" r="5" class="yd"/><circle cx="2182" cy="533" r="5.5" class="y"/><circle cx="2234" cy="522" r="4" class="y"/><circle cx="2155" cy="525" r="5.5" class="c"/><circle cx="2183" cy="506" r="5" class="cd"/><circle cx="2274" cy="531" r="5.5" class="c"/><circle cx="2317" cy="529" r="5" class="R"/><circle cx="2302" cy="539" r="5.5" class="R"/><circle cx="2331" cy="516" r="5.5" class="y"/><circle cx="2344" cy="524" r="5.5" class="y"/><circle cx="2332" cy="503" r="5.5" class="c"/><circle cx="2362" cy="539" r="5" class="Rd"/><circle cx="2336" cy="543" r="4" class="c"/><circle cx="2327" cy="554" r="5.5" class="y"/><circle cx="2339" cy="554" r="5" class="y"/><circle cx="2322" cy="555" r="5" class="bd"/><circle cx="2343" cy="565" r="5.5" class="c"/><circle cx="2374" cy="549" r="5.5" class="c"/><circle cx="2381" cy="558" r="5.5" class="b"/><circle cx="2401" cy="558" r="5.5" class="c"/><circle cx="2402" cy="565" r="5" class="c"/><circle cx="2406" cy="574" r="5.5" class="c"/><circle cx="2386" cy="581" r="4" class="b"/><circle cx="2361" cy="583" r="5.5" class="R"/><circle cx="2369" cy="582" r="5.5" class="R"/><circle cx="2350" cy="588" r="5.5" class="R"/><circle cx="2350" cy="578" r="4" class="c"/><circle cx="2324" cy="579" r="5.5" class="R"/><circle cx="2315" cy="585" r="5.5" class="Rd"/><circle cx="2243" cy="543" r="5" class="bk"/><circle cx="2259" cy="546" r="5" class="bk"/>
<circle cx="2377" cy="486" r="5" class="b"/><circle cx="2413" cy="492" r="5.5" class="b"/><circle cx="2423" cy="482" r="5.5" class="c"/><circle cx="2423" cy="502" r="5.5" class="c"/><circle cx="2437" cy="502" r="5.5" class="R"/><circle cx="2441" cy="481" r="5" class="cd"/><circle cx="2447" cy="478" r="5.5" class="c"/><circle cx="2452" cy="495" r="5" class="cd"/><circle cx="2454" cy="497" r="5" class="bd"/><circle cx="2475" cy="480" r="5.5" class="b"/><circle cx="2468" cy="489" r="5" class="bk"/><circle cx="2490" cy="471" r="5" class="b"/><circle cx="2506" cy="470" r="5.5" class="c"/><circle cx="2524" cy="480" r="5.5" class="c"/><circle cx="2500" cy="502" r="5.5" class="cd"/><circle cx="2489" cy="488" r="4" class="c"/><circle cx="2526" cy="493" r="5.5" class="b"/><circle cx="2534" cy="496" r="5" class="b"/><circle cx="2545" cy="486" r="5.5" class="c"/><circle cx="2555" cy="481" r="5.5" class="c"/><circle cx="2555" cy="501" r="5.5" class="c"/><circle cx="2566" cy="480" r="4" class="c"/><circle cx="2564" cy="495" r="5.5" class="b"/><circle cx="2589" cy="480" r="4" class="b"/><circle cx="2520" cy="511" r="5.5" class="c"/><circle cx="2527" cy="508" r="5" class="c"/><circle cx="2546" cy="510" r="4" class="c"/><circle cx="2550" cy="518" r="5" class="cd"/><circle cx="2530" cy="523" r="5" class="c"/><circle cx="2533" cy="532" r="5.5" class="c"/><circle cx="2556" cy="524" r="4" class="b"/><circle cx="2503" cy="529" r="4" class="c"/><circle cx="2513" cy="531" r="4" class="c"/><circle cx="2518" cy="539" r="4" class="b"/><circle cx="2470" cy="531" r="5.5" class="c"/><circle cx="2470" cy="543" r="5.5" class="c"/><circle cx="2452" cy="550" r="5.5" class="c"/><circle cx="2441" cy="536" r="5.5" class="c"/><circle cx="2451" cy="520" r="5.5" class="b"/><circle cx="2438" cy="528" r="5" class="c"/><circle cx="2461" cy="535" r="5" class="cd"/><circle cx="2469" cy="530" r="4.5" class="b"/><circle cx="2445" cy="565" r="5.5" class="b"/><circle cx="2439" cy="570" r="5" class="c"/><circle cx="2406" cy="575" r="5" class="c"/><circle cx="2400" cy="555" r="5" class="cd"/><circle cx="2412" cy="532" r="5.5" class="c"/><circle cx="2424" cy="540" r="5" class="bd"/><circle cx="2447" cy="510" r="5" class="c"/><circle cx="2494" cy="561" r="5.5" class="c"/><circle cx="2510" cy="551" r="5.5" class="c"/><circle cx="2505" cy="576" r="5.5" class="c"/><circle cx="2548" cy="593" r="5.5" class="b"/><circle cx="2571" cy="652" r="5.5" class="c"/><circle cx="2465" cy="607" r="5.5" class="c"/><circle cx="2465" cy="616" r="5" class="c"/><circle cx="2454" cy="625" r="5.5" class="c"/><circle cx="2441" cy="632" r="5.5" class="b"/><circle cx="2479" cy="619" r="5.5" class="b"/><circle cx="2482" cy="590" r="5.5" class="b"/><circle cx="2490" cy="612" r="5.5" class="b"/><circle cx="2484" cy="625" r="5.5" class="c"/><circle cx="2489" cy="632" r="5.5" class="b"/><circle cx="2496" cy="630" r="5.5" class="c"/><circle cx="2501" cy="640" r="5.5" class="b"/><circle cx="2481" cy="647" r="5.5" class="b"/><circle cx="2477" cy="643" r="5.5" class="c"/><circle cx="2474" cy="632" r="5" class="cd"/><circle cx="2495" cy="673" r="5" class="c"/><circle cx="2482" cy="667" r="5.5" class="c"/><circle cx="2478" cy="681" r="5.5" class="c"/><circle cx="2492" cy="703" r="5.5" class="b"/><circle cx="2486" cy="708" r="4" class="c"/><circle cx="2424" cy="610" r="5.5" class="b"/><circle cx="2440" cy="615" r="5.5" class="b"/><circle cx="2434" cy="599" r="5.5" class="b"/><circle cx="2423" cy="605" r="5.5" class="b"/><circle cx="2413" cy="599" r="5.5" class="c"/><circle cx="2445" cy="599" r="5.5" class="b"/><circle cx="2451" cy="603" r="5.5" class="b"/><circle cx="2392" cy="615" r="5.5" class="R"/><circle cx="2398" cy="614" r="5.5" class="b"/><circle cx="2408" cy="621" r="5.5" class="b"/><circle cx="2347" cy="617" r="5.5" class="c"/><circle cx="2353" cy="627" r="5" class="c"/><circle cx="2366" cy="628" r="4" class="c"/><circle cx="2387" cy="632" r="5.5" class="c"/>
</g>
<g id="cluster-jasmine">
<circle cx="2039" cy="649" r="5.5" class="R"/><circle cx="2081" cy="688" r="4" class="R"/><circle cx="2113" cy="681" r="5.5" class="Rd"/><circle cx="2121" cy="660" r="5.5" class="Rk"/><circle cx="2102" cy="643" r="4" class="b"/><circle cx="2146" cy="641" r="5.5" class="b"/><circle cx="2158" cy="655" r="4" class="R"/><circle cx="2158" cy="680" r="5.5" class="b"/><circle cx="2160" cy="663" r="5" class="bd"/><circle cx="2165" cy="690" r="4" class="b"/><circle cx="2054" cy="774" r="5" class="bk"/><circle cx="2089" cy="731" r="5.5" class="yd"/><circle cx="2094" cy="717" r="4" class="y"/><circle cx="2162" cy="718" r="4" class="R"/><circle cx="2155" cy="726" r="4" class="R"/><circle cx="2168" cy="727" r="5.5" class="b"/><circle cx="2173" cy="714" r="5.5" class="rd"/><circle cx="2182" cy="712" r="5" class="bd"/><circle cx="2195" cy="710" r="5.5" class="Rd"/><circle cx="2198" cy="706" r="5.5" class="b"/><circle cx="2213" cy="622" r="5" class="bk"/><circle cx="2204" cy="636" r="5.5" class="R"/><circle cx="2216" cy="647" r="5.5" class="R"/><circle cx="2209" cy="657" r="5.5" class="b"/><circle cx="2203" cy="653" r="5.5" class="Rd"/><circle cx="2192" cy="664" r="4" class="R"/><circle cx="2205" cy="664" r="5.5" class="Rd"/><circle cx="2214" cy="670" r="5.5" class="b"/><circle cx="2211" cy="673" r="5.5" class="R"/><circle cx="2220" cy="665" r="5" class="bk"/><circle cx="2227" cy="665" r="5.5" class="R"/><circle cx="2233" cy="675" r="5.5" class="R"/><circle cx="2226" cy="677" r="5.5" class="b"/><circle cx="2234" cy="662" r="5" class="bd"/><circle cx="2238" cy="663" r="5.5" class="b"/><circle cx="2247" cy="653" r="5.5" class="b"/><circle cx="2254" cy="662" r="5" class="bk"/><circle cx="2250" cy="645" r="5.5" class="b"/><circle cx="2264" cy="652" r="5.5" class="R"/><circle cx="2268" cy="648" r="5" class="bk"/><circle cx="2276" cy="650" r="4" class="R"/><circle cx="2264" cy="675" r="5.5" class="R"/><circle cx="2247" cy="683" r="5.5" class="R"/><circle cx="2246" cy="688" r="5.5" class="R"/><circle cx="2258" cy="688" r="5.5" class="y"/><circle cx="2270" cy="692" r="5.5" class="R"/><circle cx="2266" cy="671" r="5" class="b"/><circle cx="2280" cy="681" r="5.5" class="b"/><circle cx="2284" cy="670" r="5" class="b"/><circle cx="2284" cy="698" r="5.5" class="b"/><circle cx="2289" cy="645" r="5" class="Rk"/><circle cx="2298" cy="643" r="5.5" class="Rd"/><circle cx="2306" cy="679" r="5.5" class="b"/><circle cx="2310" cy="654" r="5.5" class="b"/><circle cx="2325" cy="646" r="5" class="bk"/><circle cx="2313" cy="616" r="5.5" class="b"/><circle cx="2327" cy="666" r="5.5" class="b"/><circle cx="2333" cy="672" r="5" class="bk"/><circle cx="2328" cy="690" r="5" class="bd"/><circle cx="2314" cy="692" r="5.5" class="c"/><circle cx="2326" cy="697" r="5" class="Rk"/><circle cx="2352" cy="688" r="5.5" class="R"/><circle cx="2356" cy="676" r="5.5" class="R"/><circle cx="2342" cy="644" r="5.5" class="Rd"/><circle cx="2361" cy="643" r="4" class="R"/><circle cx="2341" cy="653" r="4" class="R"/><circle cx="2411" cy="669" r="5.5" class="R"/><circle cx="2410" cy="688" r="5.5" class="c"/><circle cx="2401" cy="699" r="5.5" class="b"/><circle cx="2431" cy="653" r="5.5" class="b"/><circle cx="2434" cy="674" r="5.5" class="b"/><circle cx="2443" cy="678" r="4" class="c"/><circle cx="2393" cy="659" r="5" class="bk"/><circle cx="2377" cy="741" r="5.5" class="b"/><circle cx="2390" cy="740" r="5.5" class="b"/><circle cx="2333" cy="727" r="5" class="b"/><circle cx="2326" cy="751" r="5.5" class="yk"/><circle cx="2342" cy="750" r="5.5" class="yk"/><circle cx="2306" cy="735" r="5.5" class="R"/><circle cx="2302" cy="726" r="5.5" class="R"/><circle cx="2288" cy="751" r="5.5" class="y"/><circle cx="2282" cy="735" r="5.5" class="b"/><circle cx="2279" cy="742" r="5.5" class="y"/><circle cx="2271" cy="727" r="5.5" class="yd"/><circle cx="2259" cy="724" r="5.5" class="R"/><circle cx="2264" cy="723" r="5.5" class="R"/><circle cx="2257" cy="746" r="5" class="Rk"/><circle cx="2249" cy="777" r="5.5" class="R"/><circle cx="2245" cy="760" r="5.5" class="R"/><circle cx="2264" cy="782" r="5" class="yk"/><circle cx="2284" cy="780" r="5.5" class="R"/><circle cx="2277" cy="794" r="5.5" class="Rd"/><circle cx="2250" cy="807" r="5.5" class="R"/><circle cx="2262" cy="811" r="5.5" class="R"/><circle cx="2235" cy="817" r="5" class="b"/><circle cx="2230" cy="797" r="5.5" class="R"/><circle cx="2245" cy="793" r="4" class="b"/><circle cx="2220" cy="810" r="5.5" class="y"/><circle cx="2213" cy="806" r="5.5" class="y"/><circle cx="2207" cy="804" r="5.5" class="R"/><circle cx="2219" cy="781" r="4" class="y"/><circle cx="2225" cy="765" r="5.5" class="y"/><circle cx="2220" cy="764" r="5.5" class="R"/><circle cx="2209" cy="758" r="5.5" class="R"/><circle cx="2205" cy="768" r="5.5" class="R"/><circle cx="2200" cy="775" r="5.5" class="y"/><circle cx="2191" cy="787" r="4" class="R"/><circle cx="2188" cy="804" r="5.5" class="R"/><circle cx="2178" cy="759" r="5.5" class="y"/><circle cx="2183" cy="771" r="5.5" class="y"/><circle cx="2185" cy="733" r="5.5" class="y"/><circle cx="2186" cy="738" r="5.5" class="y"/><circle cx="2207" cy="743" r="5.5" class="b"/><circle cx="2208" cy="750" r="5" class="Rd"/><circle cx="2223" cy="735" r="5.5" class="b"/><circle cx="2230" cy="735" r="4" class="y"/><circle cx="2219" cy="740" r="5" class="yk"/><circle cx="2234" cy="725" r="5.5" class="yd"/><circle cx="2228" cy="715" r="5" class="Rk"/><circle cx="2240" cy="702" r="5" class="Rk"/><circle cx="2241" cy="705" r="5.5" class="y"/><circle cx="2232" cy="710" r="5.5" class="R"/><circle cx="2223" cy="708" r="5.5" class="R"/><circle cx="2233" cy="698" r="5" class="Rd"/><circle cx="2213" cy="694" r="5.5" class="R"/><circle cx="2212" cy="708" r="5" class="Rd"/><circle cx="2213" cy="715" r="5" class="b"/><circle cx="2197" cy="715" r="5" class="Rk"/><circle cx="2235" cy="677" r="5.5" class="b"/><circle cx="2230" cy="716" r="5.5" class="R"/><circle cx="2176" cy="817" r="5.5" class="y"/><circle cx="2182" cy="820" r="5.5" class="y"/><circle cx="2171" cy="805" r="5.5" class="R"/><circle cx="2177" cy="814" r="5.5" class="R"/><circle cx="2146" cy="807" r="4" class="y"/><circle cx="2146" cy="816" r="5.5" class="b"/><circle cx="2138" cy="822" r="5.5" class="Rd"/><circle cx="2127" cy="834" r="5.5" class="R"/><circle cx="2298" cy="820" r="5.5" class="y"/><circle cx="2306" cy="829" r="4" class="y"/><circle cx="2282" cy="820" r="5.5" class="R"/><circle cx="2269" cy="825" r="5.5" class="Rd"/><circle cx="2261" cy="828" r="5" class="bk"/><circle cx="2241" cy="823" r="5.5" class="Rd"/><circle cx="2250" cy="836" r="5.5" class="R"/><circle cx="2323" cy="793" r="5" class="R"/><circle cx="2336" cy="822" r="5.5" class="y"/><circle cx="2347" cy="836" r="5.5" class="R"/><circle cx="2360" cy="801" r="5.5" class="Rd"/><circle cx="2372" cy="832" r="5" class="y"/><circle cx="2380" cy="836" r="5.5" class="y"/><circle cx="2403" cy="847" r="5.5" class="Rk"/><circle cx="2321" cy="847" r="5" class="Rk"/><circle cx="2302" cy="856" r="4.5" class="yk"/><circle cx="2260" cy="859" r="4" class="R"/><circle cx="2254" cy="865" r="5.5" class="R"/><circle cx="2273" cy="867" r="4" class="y"/><circle cx="2213" cy="875" r="5.5" class="y"/><circle cx="2239" cy="887" r="5" class="y"/><circle cx="2253" cy="900" r="5.5" class="y"/><circle cx="2282" cy="904" r="5.5" class="Rk"/><circle cx="2278" cy="916" r="5.5" class="R"/><circle cx="2313" cy="896" r="5.5" class="y"/><circle cx="2353" cy="911" r="5.5" class="Rd"/><circle cx="2228" cy="947" r="5" class="y"/><circle cx="2116" cy="763" r="5" class="b"/><circle cx="2139" cy="767" r="4" class="b"/><circle cx="2090" cy="790" r="5.5" class="R"/><circle cx="2075" cy="824" r="3.5" class="Rk"/><circle cx="2093" cy="872" r="4.5" class="Rk"/><circle cx="2112" cy="893" r="5" class="yk"/><circle cx="2432" cy="761" r="5" class="bd"/><circle cx="2444" cy="777" r="5" class="bd"/><circle cx="2653" cy="919" r="5" class="Rk"/><circle cx="2166" cy="955" r="4.5" class="R"/><circle cx="2112" cy="887" r="4" class="Rk"/><circle cx="2760" cy="1151" r="4.5" class="Rd"/>
</g>
<g id="cluster-eoseno">
<circle cx="264" cy="491" r="5" class="g"/><circle cx="252" cy="532" r="5" class="gd"/><circle cx="353" cy="513" r="5.5" class="bd"/><circle cx="365" cy="528" r="5" class="bk"/><circle cx="411" cy="516" r="5" class="b"/><circle cx="413" cy="540" r="4.5" class="bk"/><circle cx="278" cy="552" r="5.5" class="b"/><circle cx="302" cy="552" r="4" class="b"/><circle cx="310" cy="545" r="4" class="g"/><circle cx="327" cy="561" r="5.5" class="b"/><circle cx="284" cy="562" r="4" class="g"/><circle cx="264" cy="568" r="5" class="gk"/><circle cx="262" cy="574" r="4" class="g"/><circle cx="281" cy="575" r="5" class="gk"/><circle cx="290" cy="573" r="5.5" class="b"/><circle cx="296" cy="574" r="5.5" class="b"/><circle cx="301" cy="572" r="5" class="g"/><circle cx="315" cy="570" r="5" class="g"/><circle cx="322" cy="575" r="5.5" class="g"/><circle cx="335" cy="574" r="4" class="gk"/><circle cx="315" cy="577" r="4.5" class="gk"/><circle cx="277" cy="583" r="5.5" class="g"/><circle cx="286" cy="583" r="5.5" class="b"/><circle cx="302" cy="585" r="4" class="b"/><circle cx="295" cy="590" r="5.5" class="b"/><circle cx="316" cy="586" r="4.5" class="gk"/><circle cx="344" cy="587" r="4.5" class="bk"/><circle cx="370" cy="588" r="5" class="bd"/><circle cx="278" cy="590" r="4.5" class="g"/><circle cx="264" cy="592" r="5.5" class="gd"/><circle cx="293" cy="593" r="4" class="bd"/><circle cx="316" cy="594" r="4" class="b"/><circle cx="336" cy="594" r="4" class="g"/><circle cx="202" cy="603" r="5.5" class="b"/><circle cx="240" cy="609" r="3.5" class="bk"/><circle cx="264" cy="603" r="5" class="gk"/><circle cx="272" cy="607" r="4" class="b"/><circle cx="296" cy="605" r="5" class="bk"/><circle cx="302" cy="610" r="5.5" class="g"/><circle cx="319" cy="609" r="5" class="b"/><circle cx="322" cy="605" r="5" class="g"/><circle cx="334" cy="610" r="5" class="b"/><circle cx="342" cy="611" r="5" class="g"/><circle cx="265" cy="622" r="5" class="bd"/><circle cx="287" cy="624" r="4" class="gk"/><circle cx="298" cy="620" r="5" class="b"/><circle cx="329" cy="623" r="4" class="gk"/><circle cx="343" cy="621" r="4" class="g"/><circle cx="374" cy="620" r="5" class="g"/><circle cx="349" cy="632" r="5" class="bk"/><circle cx="354" cy="627" r="4.5" class="gk"/><circle cx="393" cy="629" r="5" class="bk"/><circle cx="323" cy="630" r="4.5" class="b"/><circle cx="333" cy="634" r="3.5" class="b"/><circle cx="310" cy="634" r="4" class="gk"/><circle cx="263" cy="633" r="3.5" class="gd"/><circle cx="245" cy="637" r="5" class="bk"/><circle cx="276" cy="642" r="4" class="gk"/><circle cx="294" cy="645" r="4.5" class="b"/><circle cx="364" cy="649" r="5" class="g"/><circle cx="376" cy="646" r="5" class="g"/><circle cx="382" cy="647" r="4.5" class="gk"/><circle cx="358" cy="657" r="5" class="gk"/><circle cx="384" cy="663" r="5" class="g"/><circle cx="388" cy="670" r="5" class="bd"/><circle cx="400" cy="657" r="4" class="gk"/><circle cx="429" cy="655" r="5" class="gk"/><circle cx="335" cy="676" r="5" class="g"/><circle cx="324" cy="686" r="5" class="gd"/><circle cx="357" cy="684" r="5" class="b"/><circle cx="387" cy="682" r="3.5" class="bk"/><circle cx="375" cy="700" r="5" class="b"/><circle cx="383" cy="697" r="5" class="b"/><circle cx="410" cy="706" r="4.5" class="bk"/><circle cx="431" cy="698" r="4" class="gk"/><circle cx="287" cy="706" r="4" class="gd"/><circle cx="273" cy="714" r="5" class="g"/><circle cx="321" cy="757" r="5" class="g"/><circle cx="362" cy="768" r="5" class="b"/><circle cx="240" cy="798" r="5" class="bk"/><circle cx="411" cy="814" r="4.5" class="bk"/>
</g>
<g id="cluster-osia-kikia">
<circle cx="833" cy="829" r="5" class="b"/><circle cx="714" cy="862" r="4" class="b"/><circle cx="734" cy="864" r="5" class="gd"/><circle cx="813" cy="849" r="5" class="o"/><circle cx="811" cy="869" r="5" class="od"/><circle cx="817" cy="862" r="4" class="bd"/><circle cx="844" cy="881" r="5" class="b"/><circle cx="703" cy="914" r="5" class="b"/><circle cx="641" cy="902" r="5" class="b"/><circle cx="583" cy="902" r="5" class="b"/><circle cx="602" cy="911" r="5" class="g"/><circle cx="652" cy="921" r="5" class="g"/><circle cx="666" cy="912" r="5" class="gk"/><circle cx="763" cy="908" r="5" class="b"/><circle cx="779" cy="903" r="4.5" class="gk"/><circle cx="753" cy="920" r="5" class="g"/><circle cx="704" cy="891" r="5" class="gd"/><circle cx="734" cy="933" r="5" class="b"/><circle cx="721" cy="940" r="5" class="gd"/><circle cx="713" cy="930" r="5" class="bd"/><circle cx="696" cy="946" r="4" class="b"/><circle cx="827" cy="913" r="5" class="g"/><circle cx="820" cy="919" r="4" class="b"/><circle cx="789" cy="931" r="4.5" class="gk"/><circle cx="834" cy="941" r="4" class="gk"/><circle cx="749" cy="951" r="5" class="g"/><circle cx="788" cy="957" r="5" class="g"/><circle cx="807" cy="957" r="5.5" class="g"/><circle cx="582" cy="955" r="5" class="b"/><circle cx="553" cy="950" r="4.5" class="bk"/><circle cx="565" cy="924" r="3.5" class="bk"/><circle cx="602" cy="968" r="5" class="g"/><circle cx="679" cy="967" r="5" class="b"/><circle cx="761" cy="974" r="4" class="b"/><circle cx="741" cy="961" r="4" class="b"/><circle cx="656" cy="981" r="5" class="b"/><circle cx="681" cy="984" r="5" class="g"/><circle cx="698" cy="988" r="5.5" class="g"/><circle cx="720" cy="982" r="5" class="g"/><circle cx="630" cy="995" r="5" class="g"/><circle cx="642" cy="999" r="5" class="g"/><circle cx="652" cy="1002" r="5" class="g"/><circle cx="685" cy="996" r="5" class="b"/><circle cx="721" cy="992" r="5" class="g"/><circle cx="723" cy="999" r="5" class="b"/><circle cx="704" cy="1004" r="4" class="bd"/><circle cx="641" cy="1007" r="4" class="b"/><circle cx="601" cy="1014" r="5" class="b"/><circle cx="623" cy="1016" r="5" class="gd"/><circle cx="640" cy="1017" r="5" class="g"/><circle cx="663" cy="1017" r="5" class="b"/><circle cx="685" cy="1007" r="5" class="g"/><circle cx="724" cy="1011" r="4" class="g"/><circle cx="750" cy="1010" r="4" class="b"/><circle cx="762" cy="1000" r="4" class="g"/><circle cx="718" cy="1024" r="5" class="g"/><circle cx="732" cy="1024" r="5" class="g"/><circle cx="765" cy="1018" r="5" class="g"/><circle cx="685" cy="1026" r="4" class="bd"/><circle cx="812" cy="1022" r="5" class="g"/><circle cx="793" cy="1023" r="4" class="bk"/><circle cx="611" cy="1044" r="5" class="g"/><circle cx="633" cy="1038" r="5" class="b"/><circle cx="662" cy="1039" r="5" class="b"/><circle cx="676" cy="1039" r="4" class="bk"/><circle cx="689" cy="1039" r="5" class="bd"/><circle cx="696" cy="1048" r="4" class="g"/><circle cx="773" cy="1041" r="5" class="g"/><circle cx="787" cy="1044" r="5" class="g"/><circle cx="780" cy="1042" r="4" class="b"/><circle cx="774" cy="1056" r="5" class="g"/><circle cx="618" cy="1074" r="5" class="bd"/><circle cx="645" cy="1061" r="5" class="g"/><circle cx="657" cy="1061" r="5" class="b"/><circle cx="677" cy="1059" r="5" class="b"/><circle cx="681" cy="1062" r="5" class="gd"/><circle cx="702" cy="1070" r="5" class="g"/><circle cx="708" cy="1061" r="4" class="g"/><circle cx="718" cy="1067" r="5" class="g"/><circle cx="723" cy="1074" r="4" class="bd"/><circle cx="757" cy="1078" r="5" class="g"/><circle cx="762" cy="1088" r="5.5" class="b"/><circle cx="778" cy="1086" r="5" class="b"/><circle cx="816" cy="1072" r="5" class="b"/><circle cx="646" cy="1086" r="5" class="b"/><circle cx="630" cy="1119" r="5" class="b"/><circle cx="663" cy="1126" r="4" class="g"/><circle cx="688" cy="1134" r="5" class="b"/><circle cx="730" cy="1118" r="4" class="b"/><circle cx="774" cy="1119" r="5" class="g"/><circle cx="642" cy="1162" r="5" class="b"/>
</g>
<g id="cluster-eno-umiti">
<circle cx="900" cy="734" r="4" class="o"/><circle cx="1014" cy="750" r="5" class="o"/><circle cx="1016" cy="763" r="5" class="od"/><circle cx="1173" cy="752" r="5" class="od"/><circle cx="935" cy="767" r="5" class="od"/><circle cx="920" cy="772" r="4" class="o"/><circle cx="909" cy="781" r="5" class="b"/><circle cx="1021" cy="782" r="5" class="o"/><circle cx="1038" cy="787" r="5" class="bk"/><circle cx="934" cy="797" r="5" class="o"/><circle cx="978" cy="811" r="4" class="o"/><circle cx="994" cy="813" r="5" class="b"/><circle cx="1016" cy="816" r="5" class="od"/><circle cx="1007" cy="827" r="5" class="od"/><circle cx="1050" cy="817" r="5" class="o"/><circle cx="1060" cy="819" r="5" class="od"/><circle cx="1068" cy="807" r="5" class="od"/><circle cx="1081" cy="833" r="5" class="od"/><circle cx="1076" cy="830" r="4.5" class="bk"/><circle cx="1182" cy="825" r="5.5" class="b"/><circle cx="1135" cy="839" r="5" class="bd"/><circle cx="1134" cy="853" r="5" class="od"/><circle cx="1146" cy="853" r="4.5" class="bk"/><circle cx="957" cy="835" r="5" class="o"/><circle cx="951" cy="843" r="5" class="b"/><circle cx="980" cy="851" r="5" class="bk"/><circle cx="916" cy="853" r="4.5" class="o"/><circle cx="1019" cy="839" r="4" class="b"/><circle cx="1041" cy="857" r="5" class="b"/><circle cx="1055" cy="853" r="5" class="o"/><circle cx="1044" cy="871" r="5" class="b"/><circle cx="1022" cy="870" r="5" class="o"/><circle cx="1073" cy="874" r="5" class="b"/><circle cx="1016" cy="878" r="5" class="od"/><circle cx="953" cy="876" r="5" class="b"/><circle cx="942" cy="881" r="5" class="od"/><circle cx="975" cy="879" r="5" class="b"/><circle cx="978" cy="872" r="4" class="b"/><circle cx="1090" cy="893" r="5" class="b"/><circle cx="1072" cy="893" r="5" class="bk"/><circle cx="994" cy="893" r="3.5" class="od"/><circle cx="990" cy="899" r="5" class="b"/><circle cx="934" cy="894" r="5" class="b"/><circle cx="947" cy="898" r="5" class="b"/><circle cx="964" cy="902" r="5" class="o"/><circle cx="1142" cy="892" r="5" class="y"/><circle cx="1104" cy="904" r="4.5" class="y"/><circle cx="1165" cy="901" r="5" class="bk"/><circle cx="1187" cy="903" r="5" class="y"/><circle cx="1200" cy="907" r="5" class="o"/><circle cx="1228" cy="891" r="5" class="y"/><circle cx="1255" cy="886" r="5" class="o"/><circle cx="1274" cy="877" r="5" class="y"/><circle cx="1284" cy="888" r="5" class="o"/><circle cx="1163" cy="912" r="5" class="o"/><circle cx="1131" cy="913" r="5" class="bd"/><circle cx="1135" cy="924" r="5" class="o"/><circle cx="1141" cy="934" r="5" class="o"/><circle cx="1187" cy="930" r="4" class="y"/><circle cx="1199" cy="918" r="5" class="o"/><circle cx="1215" cy="927" r="5" class="o"/><circle cx="1214" cy="920" r="5" class="od"/><circle cx="1238" cy="939" r="5" class="od"/><circle cx="1330" cy="941" r="5" class="y"/><circle cx="1330" cy="950" r="5" class="y"/><circle cx="1314" cy="959" r="5" class="yd"/>
<circle cx="1118" cy="955" r="5.5" class="y"/><circle cx="1110" cy="958" r="5" class="o"/><circle cx="1143" cy="956" r="5.5" class="y"/><circle cx="1151" cy="967" r="5" class="y"/><circle cx="1135" cy="962" r="5" class="o"/><circle cx="1155" cy="951" r="5" class="b"/><circle cx="1124" cy="947" r="4.5" class="bd"/><circle cx="1090" cy="976" r="4" class="b"/><circle cx="1073" cy="960" r="5" class="od"/><circle cx="1171" cy="965" r="5" class="o"/><circle cx="1182" cy="957" r="5.5" class="yd"/><circle cx="1200" cy="972" r="5" class="yk"/><circle cx="1215" cy="959" r="5" class="o"/><circle cx="1220" cy="950" r="5" class="o"/><circle cx="1242" cy="966" r="4" class="o"/><circle cx="1286" cy="959" r="5" class="o"/><circle cx="1179" cy="976" r="4" class="o"/><circle cx="1196" cy="985" r="5" class="o"/><circle cx="1183" cy="993" r="4" class="o"/><circle cx="1218" cy="993" r="5" class="od"/><circle cx="1142" cy="988" r="5" class="y"/><circle cx="1154" cy="996" r="5" class="o"/><circle cx="1150" cy="993" r="4.5" class="od"/><circle cx="1135" cy="1000" r="5" class="y"/><circle cx="1138" cy="1005" r="5" class="o"/><circle cx="1160" cy="1002" r="4" class="y"/><circle cx="1181" cy="1002" r="5" class="y"/><circle cx="1091" cy="1004" r="5" class="y"/><circle cx="1121" cy="1010" r="5" class="y"/><circle cx="1110" cy="1011" r="5" class="o"/><circle cx="1146" cy="1014" r="5" class="y"/><circle cx="1162" cy="1011" r="5" class="y"/><circle cx="1177" cy="1010" r="5" class="o"/><circle cx="1204" cy="1011" r="5" class="y"/><circle cx="1211" cy="1009" r="5" class="od"/><circle cx="1241" cy="1007" r="5" class="y"/><circle cx="1255" cy="1003" r="5" class="y"/><circle cx="1271" cy="1004" r="5" class="od"/><circle cx="1258" cy="985" r="5" class="o"/><circle cx="1261" cy="985" r="5" class="y"/><circle cx="1265" cy="993" r="5" class="o"/><circle cx="1287" cy="1013" r="5" class="y"/><circle cx="1171" cy="1021" r="5" class="o"/><circle cx="1153" cy="1025" r="4" class="y"/><circle cx="1176" cy="1027" r="5" class="o"/><circle cx="1078" cy="1024" r="5" class="y"/><circle cx="1105" cy="1028" r="5" class="o"/><circle cx="1229" cy="1022" r="5" class="o"/><circle cx="1267" cy="1025" r="5" class="o"/><circle cx="1301" cy="1029" r="5" class="y"/><circle cx="1335" cy="1020" r="3.5" class="o"/><circle cx="1185" cy="1035" r="4" class="o"/><circle cx="1231" cy="1035" r="5" class="o"/><circle cx="1183" cy="1040" r="5" class="y"/><circle cx="1183" cy="1050" r="5.5" class="y"/><circle cx="1187" cy="1050" r="5" class="y"/><circle cx="1185" cy="1062" r="4" class="o"/><circle cx="1225" cy="1052" r="5" class="o"/><circle cx="1230" cy="1054" r="5" class="y"/><circle cx="1293" cy="1042" r="5" class="o"/><circle cx="1268" cy="1061" r="4" class="y"/><circle cx="1380" cy="1059" r="5" class="y"/><circle cx="1059" cy="1043" r="5" class="y"/><circle cx="1085" cy="1052" r="4" class="o"/><circle cx="1097" cy="1054" r="5" class="y"/><circle cx="1160" cy="1057" r="5" class="o"/><circle cx="1129" cy="1067" r="5" class="o"/><circle cx="1125" cy="1079" r="5" class="y"/><circle cx="1213" cy="1076" r="4" class="o"/><circle cx="1194" cy="1080" r="5" class="y"/><circle cx="1190" cy="1083" r="4.5" class="o"/><circle cx="1282" cy="1084" r="4" class="o"/><circle cx="1098" cy="1092" r="5" class="o"/><circle cx="1169" cy="1100" r="5" class="y"/><circle cx="1159" cy="1109" r="5" class="o"/><circle cx="1266" cy="1092" r="5" class="y"/><circle cx="1215" cy="1111" r="4" class="y"/><circle cx="1226" cy="1119" r="5" class="y"/><circle cx="1242" cy="1113" r="5" class="y"/><circle cx="1206" cy="1126" r="4" class="o"/><circle cx="1172" cy="1133" r="5" class="od"/><circle cx="1238" cy="1131" r="5" class="o"/><circle cx="1244" cy="1131" r="5" class="o"/><circle cx="1119" cy="1128" r="4" class="y"/><circle cx="1024" cy="1138" r="5" class="y"/><circle cx="1072" cy="1138" r="5" class="o"/><circle cx="1280" cy="1153" r="5" class="y"/><circle cx="1383" cy="1112" r="5" class="yd"/><circle cx="1035" cy="999" r="5" class="o"/><circle cx="1030" cy="1031" r="5" class="o"/><circle cx="1027" cy="979" r="5" class="od"/><circle cx="1016" cy="953" r="5" class="o"/><circle cx="1002" cy="942" r="5" class="o"/><circle cx="983" cy="941" r="4.5" class="od"/><circle cx="1014" cy="938" r="5" class="od"/><circle cx="1046" cy="918" r="5" class="od"/><circle cx="1072" cy="920" r="5" class="od"/><circle cx="1072" cy="961" r="5" class="ok"/><circle cx="1030" cy="966" r="5.5" class="b"/><circle cx="947" cy="971" r="5.5" class="b"/><circle cx="981" cy="978" r="4" class="b"/><circle cx="916" cy="945" r="5" class="o"/><circle cx="903" cy="950" r="3.5" class="od"/><circle cx="868" cy="950" r="5" class="o"/><circle cx="883" cy="910" r="4" class="o"/><circle cx="918" cy="1004" r="5" class="od"/><circle cx="953" cy="925" r="5" class="od"/><circle cx="978" cy="918" r="5" class="o"/><circle cx="1014" cy="907" r="5" class="od"/><circle cx="1040" cy="914" r="5" class="o"/><circle cx="1058" cy="898" r="5" class="od"/><circle cx="1038" cy="876" r="5" class="ok"/>
<circle cx="865" cy="1151" r="5" class="o"/><circle cx="922" cy="1154" r="5" class="o"/><circle cx="939" cy="1157" r="3.5" class="o"/><circle cx="961" cy="1157" r="5" class="o"/><circle cx="1037" cy="1160" r="4" class="o"/><circle cx="948" cy="1168" r="5" class="y"/><circle cx="961" cy="1173" r="5" class="y"/><circle cx="971" cy="1182" r="5.5" class="yd"/><circle cx="991" cy="1169" r="5" class="y"/><circle cx="996" cy="1168" r="5" class="o"/><circle cx="915" cy="1182" r="5.5" class="o"/><circle cx="1000" cy="1192" r="5" class="od"/><circle cx="1027" cy="1195" r="5" class="y"/><circle cx="1029" cy="1198" r="5" class="y"/><circle cx="1043" cy="1203" r="5" class="yd"/><circle cx="1053" cy="1203" r="5" class="o"/><circle cx="1058" cy="1200" r="5" class="o"/><circle cx="1061" cy="1190" r="5" class="o"/><circle cx="1057" cy="1195" r="5" class="y"/><circle cx="1069" cy="1185" r="4" class="y"/><circle cx="1125" cy="1185" r="5.5" class="yd"/><circle cx="1143" cy="1174" r="5.5" class="o"/><circle cx="1138" cy="1208" r="4" class="y"/><circle cx="987" cy="1204" r="4" class="y"/><circle cx="1035" cy="1208" r="4" class="y"/><circle cx="1037" cy="1215" r="5.5" class="o"/><circle cx="960" cy="1218" r="5.5" class="y"/><circle cx="941" cy="1224" r="5.5" class="y"/><circle cx="904" cy="1234" r="5.5" class="y"/><circle cx="907" cy="1255" r="5.5" class="y"/><circle cx="987" cy="1216" r="5" class="y"/><circle cx="994" cy="1221" r="5" class="y"/><circle cx="999" cy="1224" r="5" class="od"/><circle cx="1023" cy="1223" r="5" class="o"/><circle cx="1070" cy="1221" r="5.5" class="y"/><circle cx="1074" cy="1231" r="5" class="y"/><circle cx="957" cy="1234" r="5.5" class="o"/><circle cx="963" cy="1232" r="5.5" class="o"/><circle cx="972" cy="1238" r="5.5" class="o"/><circle cx="958" cy="1250" r="5.5" class="o"/><circle cx="965" cy="1245" r="5.5" class="y"/><circle cx="946" cy="1245" r="5.5" class="y"/><circle cx="978" cy="1249" r="5" class="od"/><circle cx="993" cy="1235" r="5" class="o"/><circle cx="1002" cy="1238" r="4" class="y"/><circle cx="1040" cy="1251" r="5" class="yd"/><circle cx="1055" cy="1244" r="5.5" class="y"/><circle cx="1082" cy="1253" r="3.5" class="o"/><circle cx="1096" cy="1256" r="5" class="y"/><circle cx="1120" cy="1232" r="5" class="o"/><circle cx="1205" cy="1234" r="5" class="o"/><circle cx="1222" cy="1253" r="5" class="yd"/><circle cx="962" cy="1267" r="5" class="o"/><circle cx="1007" cy="1262" r="5" class="o"/><circle cx="1014" cy="1260" r="5" class="o"/><circle cx="1033" cy="1265" r="5" class="o"/><circle cx="1039" cy="1265" r="5" class="y"/><circle cx="1052" cy="1266" r="5" class="o"/><circle cx="1081" cy="1270" r="5" class="od"/><circle cx="1125" cy="1272" r="5" class="o"/><circle cx="1153" cy="1275" r="5" class="y"/><circle cx="1003" cy="1281" r="4" class="y"/><circle cx="1017" cy="1286" r="3.5" class="yd"/><circle cx="1033" cy="1279" r="5" class="y"/><circle cx="1197" cy="1296" r="5" class="yd"/><circle cx="1099" cy="1298" r="5" class="o"/><circle cx="1108" cy="1300" r="5" class="o"/><circle cx="1097" cy="1306" r="5" class="y"/><circle cx="1081" cy="1312" r="4" class="y"/><circle cx="1014" cy="1308" r="5" class="o"/><circle cx="1025" cy="1303" r="5" class="o"/><circle cx="1032" cy="1305" r="5" class="o"/><circle cx="955" cy="1313" r="3.5" class="y"/><circle cx="1134" cy="1324" r="5" class="o"/><circle cx="1119" cy="1334" r="5" class="yd"/><circle cx="1065" cy="1333" r="5" class="od"/><circle cx="1021" cy="1334" r="5" class="y"/><circle cx="938" cy="1335" r="5" class="od"/><circle cx="945" cy="1338" r="5" class="o"/><circle cx="952" cy="1334" r="5" class="y"/><circle cx="959" cy="1338" r="5" class="y"/><circle cx="967" cy="1342" r="5" class="y"/><circle cx="942" cy="1350" r="5" class="o"/><circle cx="984" cy="1345" r="5" class="o"/><circle cx="1014" cy="1348" r="4" class="o"/><circle cx="1064" cy="1347" r="5" class="y"/><circle cx="1074" cy="1345" r="5" class="o"/><circle cx="1116" cy="1353" r="3.5" class="o"/><circle cx="1217" cy="1361" r="5" class="o"/><circle cx="998" cy="1360" r="4" class="y"/><circle cx="921" cy="1367" r="5" class="o"/><circle cx="1433" cy="1190" r="4.5" class="od"/><circle cx="1381" cy="1057" r="4.5" class="y"/>
</g>
<g id="cluster-siarvi">
<circle cx="2546" cy="944" r="5" class="sR"/><circle cx="2565" cy="953" r="5" class="sd"/><circle cx="2457" cy="978" r="5" class="sd"/><circle cx="2509" cy="993" r="5" class="sk"/><circle cx="2516" cy="1005" r="5" class="sd"/><circle cx="2529" cy="1002" r="5" class="sRd"/><circle cx="2537" cy="999" r="4.5" class="sd"/><circle cx="2565" cy="1003" r="5" class="sd"/><circle cx="2604" cy="992" r="5" class="s"/><circle cx="2643" cy="994" r="5" class="sk"/><circle cx="2475" cy="1008" r="4.5" class="sk"/><circle cx="2522" cy="1020" r="4" class="sk"/><circle cx="2544" cy="1025" r="5" class="s"/><circle cx="2563" cy="1023" r="5" class="sd"/><circle cx="2569" cy="1029" r="5" class="sR"/><circle cx="2578" cy="1018" r="4" class="sk"/><circle cx="2487" cy="1033" r="4.5" class="s"/><circle cx="2472" cy="1038" r="5" class="sk"/><circle cx="2396" cy="1047" r="4" class="s"/><circle cx="2353" cy="1049" r="3.5" class="sk"/><circle cx="2362" cy="1067" r="4" class="sR"/><circle cx="2459" cy="1052" r="5" class="s"/><circle cx="2502" cy="1053" r="5" class="sR"/><circle cx="2503" cy="1064" r="5" class="sRd"/><circle cx="2545" cy="1050" r="5" class="s"/><circle cx="2551" cy="1046" r="5" class="s"/><circle cx="2568" cy="1048" r="5" class="sd"/><circle cx="2583" cy="1042" r="4" class="sd"/><circle cx="2592" cy="1052" r="4.5" class="sk"/><circle cx="2597" cy="1062" r="3.5" class="sk"/><circle cx="2604" cy="1063" r="5" class="sR"/><circle cx="2630" cy="1066" r="5" class="s"/><circle cx="2638" cy="1045" r="5" class="sd"/><circle cx="2655" cy="1044" r="4.5" class="sk"/><circle cx="2670" cy="1060" r="5" class="sd"/><circle cx="2500" cy="1078" r="5" class="sd"/><circle cx="2518" cy="1072" r="3.5" class="sd"/><circle cx="2534" cy="1073" r="5" class="s"/><circle cx="2557" cy="1072" r="4.5" class="s"/><circle cx="2553" cy="1079" r="5" class="sd"/><circle cx="2572" cy="1072" r="5" class="sRd"/><circle cx="2557" cy="1087" r="3.5" class="sk"/><circle cx="2497" cy="1092" r="5" class="s"/><circle cx="2504" cy="1089" r="5" class="sR"/><circle cx="2521" cy="1086" r="5" class="s"/><circle cx="2537" cy="1088" r="5" class="sRd"/><circle cx="2542" cy="1088" r="5" class="sd"/><circle cx="2530" cy="1098" r="4.5" class="sk"/><circle cx="2515" cy="1105" r="5" class="sR"/><circle cx="2519" cy="1101" r="4" class="s"/><circle cx="2403" cy="1097" r="4" class="sR"/><circle cx="2430" cy="1113" r="3.5" class="s"/><circle cx="2362" cy="1122" r="5" class="sRd"/><circle cx="2374" cy="1148" r="5" class="sk"/><circle cx="2434" cy="1151" r="5" class="sk"/><circle cx="2507" cy="1125" r="5" class="sRd"/><circle cx="2512" cy="1123" r="5" class="sRd"/><circle cx="2523" cy="1122" r="5" class="sR"/><circle cx="2541" cy="1128" r="5" class="sk"/><circle cx="2533" cy="1135" r="5" class="sR"/><circle cx="2552" cy="1145" r="3.5" class="sR"/><circle cx="2556" cy="1144" r="4.5" class="sd"/><circle cx="2583" cy="1107" r="5" class="s"/><circle cx="2573" cy="1115" r="4.5" class="sk"/><circle cx="2594" cy="1124" r="5" class="s"/><circle cx="2621" cy="1099" r="5" class="s"/><circle cx="2631" cy="1095" r="4.5" class="sk"/><circle cx="2646" cy="1092" r="5" class="s"/><circle cx="2676" cy="1092" r="5" class="sd"/><circle cx="2637" cy="1138" r="5" class="s"/><circle cx="2652" cy="1138" r="5" class="sR"/><circle cx="2644" cy="1157" r="5" class="sRd"/><circle cx="2693" cy="1157" r="5" class="sd"/><circle cx="2691" cy="1168" r="5" class="sd"/><circle cx="2609" cy="1177" r="4" class="sd"/><circle cx="2482" cy="1171" r="4" class="sR"/><circle cx="2518" cy="1173" r="3.5" class="s"/><circle cx="2476" cy="1192" r="5" class="s"/><circle cx="2512" cy="1192" r="5" class="s"/><circle cx="2538" cy="1200" r="5" class="s"/><circle cx="2542" cy="1198" r="5" class="s"/><circle cx="2472" cy="1213" r="4.5" class="s"/>
</g>
<g id="connectors">
<line class="ln" x1="1644" y1="188" x2="2496" y2="639"/>
<line class="ln" x1="1644" y1="188" x2="2169" y2="714"/>
<line class="ln" x1="2238" y1="168" x2="2185" y2="806"/>
<line class="ln" x1="2182" y1="808" x2="2289" y2="495"/>
<line class="ln" x1="293" y1="574" x2="2169" y2="714"/>
<line class="ln" x1="701" y1="983" x2="2220" y2="678"/>
<line class="ln" x1="701" y1="983" x2="936" y2="872"/>
</g>
<g id="node-ame"><text class="lb" x="1396" y="82">Ame</text></g>
<g id="node-anano"><text class="lb" x="1495" y="85">Anano</text></g>
<g id="node-solan"><text class="lb" x="2091" y="68">Solan</text></g>
<g id="node-siamda"><text class="lb" x="2143" y="398">Siamda</text></g>
<g id="node-orvia"><text class="lb" x="2407" y="400">Orvia</text></g>
<g id="node-araluz"><text class="lb" x="2346" y="540">Araluz</text></g>
<g id="node-mienal"><text class="lb" x="2075" y="578">Mienal</text></g>
<g id="node-phoalu"><text class="lb" x="2022" y="616">Phoalu</text></g>
<g id="node-jasmine"><text class="lb" x="2035" y="710">Jasmine</text></g>
<g id="node-eoseno"><text class="lb" x="145" y="474">Eoseno</text></g>
<g id="node-eno"><text class="lb" x="787" y="772">Eno</text></g>
<g id="node-osia"><text class="lb" x="549" y="885">Osia</text></g>
<g id="node-umiti"><text class="lb" x="1002" y="899">Umiti</text></g>
<g id="node-kikia"><text class="lb" x="793" y="1123">Kikia</text></g>
<g id="node-siarvi"><text class="lb" x="2349" y="994">Siarvi</text></g>
</svg>
